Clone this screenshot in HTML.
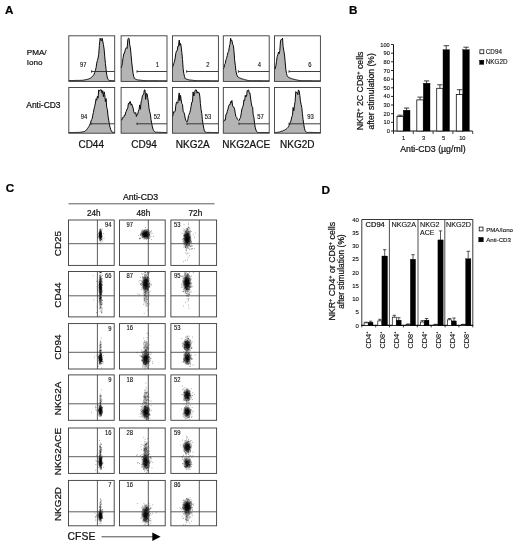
<!DOCTYPE html>
<html><head><meta charset="utf-8"><title>Figure</title>
<style>html,body{margin:0;padding:0;background:#fff;}body{width:520px;height:545px;overflow:hidden;font-family:"Liberation Sans", Arial, sans-serif;}svg text{font-family:"Liberation Sans", Arial, sans-serif;stroke:#111;}</style>
</head><body>
<svg width="520" height="545" viewBox="0 0 520 545" font-family='"Liberation Sans", Arial, sans-serif' style="display:block">
<text x="5.1" y="13.9" font-size="11.6" text-anchor="start" font-weight="bold" fill="#000" stroke-width="0.22">A</text>
<text x="349.1" y="14.4" font-size="11.7" text-anchor="start" font-weight="bold" fill="#000" stroke-width="0.22">B</text>
<text x="5.8" y="192.1" font-size="11.7" text-anchor="start" font-weight="bold" fill="#000" stroke-width="0.22">C</text>
<text x="321.4" y="193.7" font-size="11.8" text-anchor="start" font-weight="bold" fill="#000" stroke-width="0.22">D</text>
<path d="M68.8 81.4L68.8 80.5L69.5 80.5L70.1 80.5L70.8 80.5L71.5 80.5L72.1 80.5L72.8 80.5L73.5 80.5L74.1 80.5L74.8 80.5L75.5 80.4L76.1 80.4L76.8 80.4L77.4 80.4L78.1 80.4L78.8 80.4L79.4 80.4L80.1 80.4L80.8 80.4L81.4 80.3L82.1 80.3L82.8 80.3L83.4 80.2L84.1 80.0L84.8 79.9L85.4 79.7L86.1 79.6L86.8 79.5L87.4 79.3L88.1 79.2L88.8 78.9L89.4 78.6L90.1 78.2L90.8 77.9L91.4 77.5L92.1 76.9L92.7 76.1L93.4 75.3L94.1 74.2L94.7 72.6L95.4 70.3L96.1 67.6L96.7 63.1L97.4 60.5L98.1 58.0L98.7 54.4L99.4 45.5L100.1 38.2L100.7 39.6L101.4 40.8L102.1 38.2L102.7 41.0L103.4 44.4L104.1 49.0L104.7 56.1L105.4 63.4L106.1 69.6L106.7 74.6L107.4 77.9L108.0 79.4L108.7 80.0L109.4 80.4L110.0 80.6L110.7 80.6L111.4 80.6L112.0 80.7L112.7 80.7L113.4 80.7L114.0 80.7L114.7 80.8L114.7 81.4Z" fill="#b4b4b4" stroke="none"/>
<path d="M68.8 80.5L69.5 80.5L70.1 80.5L70.8 80.5L71.5 80.5L72.1 80.5L72.8 80.5L73.5 80.5L74.1 80.5L74.8 80.5L75.5 80.4L76.1 80.4L76.8 80.4L77.4 80.4L78.1 80.4L78.8 80.4L79.4 80.4L80.1 80.4L80.8 80.4L81.4 80.3L82.1 80.3L82.8 80.3L83.4 80.2L84.1 80.0L84.8 79.9L85.4 79.7L86.1 79.6L86.8 79.5L87.4 79.3L88.1 79.2L88.8 78.9L89.4 78.6L90.1 78.2L90.8 77.9L91.4 77.5L92.1 76.9L92.7 76.1L93.4 75.3L94.1 74.2L94.7 72.6L95.4 70.3L96.1 67.6L96.7 63.1L97.4 60.5L98.1 58.0L98.7 54.4L99.4 45.5L100.1 38.2L100.7 39.6L101.4 40.8L102.1 38.2L102.7 41.0L103.4 44.4L104.1 49.0L104.7 56.1L105.4 63.4L106.1 69.6L106.7 74.6L107.4 77.9L108.0 79.4L108.7 80.0L109.4 80.4L110.0 80.6L110.7 80.6L111.4 80.6L112.0 80.7L112.7 80.7L113.4 80.7L114.0 80.7L114.7 80.8" fill="none" stroke="#0a0a0a" stroke-width="1" stroke-linejoin="round"/>
<path d="M121.1 81.4L121.1 67.8L121.8 66.0L122.4 62.7L123.1 57.6L123.8 53.6L124.4 53.4L125.1 50.6L125.8 48.4L126.4 47.6L127.1 48.5L127.8 39.9L128.4 38.2L129.1 38.6L129.7 44.8L130.4 47.9L131.1 55.3L131.7 61.9L132.4 68.1L133.1 73.4L133.7 76.6L134.4 78.3L135.1 79.0L135.7 79.2L136.4 79.5L137.1 79.7L137.7 79.9L138.4 80.0L139.1 80.1L139.7 80.1L140.4 80.2L141.1 80.3L141.7 80.4L142.4 80.4L143.1 80.5L143.7 80.6L144.4 80.6L145.0 80.6L145.7 80.7L146.4 80.7L147.0 80.7L147.7 80.7L148.4 80.7L149.0 80.7L149.7 80.7L150.4 80.7L151.0 80.7L151.7 80.7L152.4 80.7L153.0 80.7L153.7 80.7L154.4 80.7L155.0 80.7L155.7 80.7L156.4 80.7L157.0 80.7L157.7 80.7L158.4 80.8L159.0 80.8L159.7 80.8L160.3 80.8L161.0 80.8L161.7 80.8L162.3 80.8L163.0 80.8L163.7 80.8L164.3 80.8L165.0 80.8L165.7 80.8L166.3 80.8L167.0 80.8L167.0 81.4Z" fill="#b4b4b4" stroke="none"/>
<path d="M121.1 67.8L121.8 66.0L122.4 62.7L123.1 57.6L123.8 53.6L124.4 53.4L125.1 50.6L125.8 48.4L126.4 47.6L127.1 48.5L127.8 39.9L128.4 38.2L129.1 38.6L129.7 44.8L130.4 47.9L131.1 55.3L131.7 61.9L132.4 68.1L133.1 73.4L133.7 76.6L134.4 78.3L135.1 79.0L135.7 79.2L136.4 79.5L137.1 79.7L137.7 79.9L138.4 80.0L139.1 80.1L139.7 80.1L140.4 80.2L141.1 80.3L141.7 80.4L142.4 80.4L143.1 80.5L143.7 80.6L144.4 80.6L145.0 80.6L145.7 80.7L146.4 80.7L147.0 80.7L147.7 80.7L148.4 80.7L149.0 80.7L149.7 80.7L150.4 80.7L151.0 80.7L151.7 80.7L152.4 80.7L153.0 80.7L153.7 80.7L154.4 80.7L155.0 80.7L155.7 80.7L156.4 80.7L157.0 80.7L157.7 80.7L158.4 80.8L159.0 80.8L159.7 80.8L160.3 80.8L161.0 80.8L161.7 80.8L162.3 80.8L163.0 80.8L163.7 80.8L164.3 80.8L165.0 80.8L165.7 80.8L166.3 80.8L167.0 80.8" fill="none" stroke="#0a0a0a" stroke-width="1" stroke-linejoin="round"/>
<path d="M172.5 81.4L172.5 67.8L173.2 65.2L173.8 63.5L174.5 61.3L175.2 58.0L175.8 53.3L176.5 51.0L177.2 50.7L177.8 46.3L178.5 46.3L179.2 40.1L179.8 45.4L180.5 43.4L181.1 46.1L181.8 52.4L182.5 59.4L183.1 68.3L183.8 73.5L184.5 76.6L185.1 78.3L185.8 79.0L186.5 79.1L187.1 79.3L187.8 79.5L188.5 79.7L189.1 79.9L189.8 80.0L190.5 80.1L191.1 80.1L191.8 80.2L192.5 80.3L193.1 80.4L193.8 80.4L194.5 80.5L195.1 80.6L195.8 80.6L196.4 80.6L197.1 80.7L197.8 80.7L198.4 80.7L199.1 80.7L199.8 80.7L200.4 80.7L201.1 80.7L201.8 80.7L202.4 80.7L203.1 80.7L203.8 80.7L204.4 80.7L205.1 80.7L205.8 80.7L206.4 80.7L207.1 80.7L207.8 80.7L208.4 80.7L209.1 80.7L209.8 80.8L210.4 80.8L211.1 80.8L211.7 80.8L212.4 80.8L213.1 80.8L213.7 80.8L214.4 80.8L215.1 80.8L215.7 80.8L216.4 80.8L217.1 80.8L217.7 80.8L218.4 80.8L218.4 81.4Z" fill="#b4b4b4" stroke="none"/>
<path d="M172.5 67.8L173.2 65.2L173.8 63.5L174.5 61.3L175.2 58.0L175.8 53.3L176.5 51.0L177.2 50.7L177.8 46.3L178.5 46.3L179.2 40.1L179.8 45.4L180.5 43.4L181.1 46.1L181.8 52.4L182.5 59.4L183.1 68.3L183.8 73.5L184.5 76.6L185.1 78.3L185.8 79.0L186.5 79.1L187.1 79.3L187.8 79.5L188.5 79.7L189.1 79.9L189.8 80.0L190.5 80.1L191.1 80.1L191.8 80.2L192.5 80.3L193.1 80.4L193.8 80.4L194.5 80.5L195.1 80.6L195.8 80.6L196.4 80.6L197.1 80.7L197.8 80.7L198.4 80.7L199.1 80.7L199.8 80.7L200.4 80.7L201.1 80.7L201.8 80.7L202.4 80.7L203.1 80.7L203.8 80.7L204.4 80.7L205.1 80.7L205.8 80.7L206.4 80.7L207.1 80.7L207.8 80.7L208.4 80.7L209.1 80.7L209.8 80.8L210.4 80.8L211.1 80.8L211.7 80.8L212.4 80.8L213.1 80.8L213.7 80.8L214.4 80.8L215.1 80.8L215.7 80.8L216.4 80.8L217.1 80.8L217.7 80.8L218.4 80.8" fill="none" stroke="#0a0a0a" stroke-width="1" stroke-linejoin="round"/>
<path d="M223.3 81.4L223.3 68.8L224.0 67.6L224.6 64.5L225.3 63.4L226.0 59.7L226.6 58.3L227.3 55.4L228.0 52.3L228.6 51.6L229.3 47.2L230.0 44.2L230.6 38.2L231.3 40.7L231.9 40.3L232.6 44.3L233.3 45.4L233.9 50.2L234.6 59.8L235.3 65.3L235.9 70.7L236.6 74.2L237.3 76.1L237.9 77.0L238.6 77.4L239.3 77.7L239.9 78.0L240.6 78.3L241.3 78.6L241.9 78.8L242.6 79.0L243.3 79.2L243.9 79.4L244.6 79.7L245.3 79.8L245.9 80.0L246.6 80.1L247.2 80.3L247.9 80.4L248.6 80.5L249.2 80.6L249.9 80.6L250.6 80.7L251.2 80.7L251.9 80.7L252.6 80.7L253.2 80.7L253.9 80.7L254.6 80.7L255.2 80.7L255.9 80.7L256.6 80.7L257.2 80.7L257.9 80.7L258.6 80.7L259.2 80.7L259.9 80.7L260.6 80.7L261.2 80.7L261.9 80.8L262.5 80.8L263.2 80.8L263.9 80.8L264.5 80.8L265.2 80.8L265.9 80.8L266.5 80.8L267.2 80.8L267.9 80.8L268.5 80.8L269.2 80.8L269.2 81.4Z" fill="#b4b4b4" stroke="none"/>
<path d="M223.3 68.8L224.0 67.6L224.6 64.5L225.3 63.4L226.0 59.7L226.6 58.3L227.3 55.4L228.0 52.3L228.6 51.6L229.3 47.2L230.0 44.2L230.6 38.2L231.3 40.7L231.9 40.3L232.6 44.3L233.3 45.4L233.9 50.2L234.6 59.8L235.3 65.3L235.9 70.7L236.6 74.2L237.3 76.1L237.9 77.0L238.6 77.4L239.3 77.7L239.9 78.0L240.6 78.3L241.3 78.6L241.9 78.8L242.6 79.0L243.3 79.2L243.9 79.4L244.6 79.7L245.3 79.8L245.9 80.0L246.6 80.1L247.2 80.3L247.9 80.4L248.6 80.5L249.2 80.6L249.9 80.6L250.6 80.7L251.2 80.7L251.9 80.7L252.6 80.7L253.2 80.7L253.9 80.7L254.6 80.7L255.2 80.7L255.9 80.7L256.6 80.7L257.2 80.7L257.9 80.7L258.6 80.7L259.2 80.7L259.9 80.7L260.6 80.7L261.2 80.7L261.9 80.8L262.5 80.8L263.2 80.8L263.9 80.8L264.5 80.8L265.2 80.8L265.9 80.8L266.5 80.8L267.2 80.8L267.9 80.8L268.5 80.8L269.2 80.8" fill="none" stroke="#0a0a0a" stroke-width="1" stroke-linejoin="round"/>
<path d="M274.5 81.4L274.5 68.7L275.2 68.9L275.8 66.2L276.5 61.5L277.2 56.5L277.8 54.9L278.5 52.1L279.2 53.7L279.8 50.7L280.5 40.9L281.2 39.4L281.8 39.9L282.5 38.2L283.1 46.7L283.8 50.7L284.5 54.9L285.1 61.3L285.8 69.3L286.5 73.4L287.1 75.7L287.8 76.8L288.5 77.3L289.1 77.6L289.8 77.9L290.5 78.2L291.1 78.4L291.8 78.7L292.5 78.9L293.1 79.1L293.8 79.3L294.5 79.4L295.1 79.6L295.8 79.8L296.5 79.9L297.1 80.1L297.8 80.2L298.4 80.3L299.1 80.4L299.8 80.6L300.4 80.6L301.1 80.6L301.8 80.7L302.4 80.7L303.1 80.7L303.8 80.7L304.4 80.7L305.1 80.7L305.8 80.7L306.4 80.7L307.1 80.7L307.8 80.7L308.4 80.7L309.1 80.7L309.8 80.7L310.4 80.7L311.1 80.7L311.8 80.7L312.4 80.7L313.1 80.8L313.7 80.8L314.4 80.8L315.1 80.8L315.7 80.8L316.4 80.8L317.1 80.8L317.7 80.8L318.4 80.8L319.1 80.8L319.7 80.8L320.4 80.8L320.4 81.4Z" fill="#b4b4b4" stroke="none"/>
<path d="M274.5 68.7L275.2 68.9L275.8 66.2L276.5 61.5L277.2 56.5L277.8 54.9L278.5 52.1L279.2 53.7L279.8 50.7L280.5 40.9L281.2 39.4L281.8 39.9L282.5 38.2L283.1 46.7L283.8 50.7L284.5 54.9L285.1 61.3L285.8 69.3L286.5 73.4L287.1 75.7L287.8 76.8L288.5 77.3L289.1 77.6L289.8 77.9L290.5 78.2L291.1 78.4L291.8 78.7L292.5 78.9L293.1 79.1L293.8 79.3L294.5 79.4L295.1 79.6L295.8 79.8L296.5 79.9L297.1 80.1L297.8 80.2L298.4 80.3L299.1 80.4L299.8 80.6L300.4 80.6L301.1 80.6L301.8 80.7L302.4 80.7L303.1 80.7L303.8 80.7L304.4 80.7L305.1 80.7L305.8 80.7L306.4 80.7L307.1 80.7L307.8 80.7L308.4 80.7L309.1 80.7L309.8 80.7L310.4 80.7L311.1 80.7L311.8 80.7L312.4 80.7L313.1 80.8L313.7 80.8L314.4 80.8L315.1 80.8L315.7 80.8L316.4 80.8L317.1 80.8L317.7 80.8L318.4 80.8L319.1 80.8L319.7 80.8L320.4 80.8" fill="none" stroke="#0a0a0a" stroke-width="1" stroke-linejoin="round"/>
<path d="M68.8 133.2L68.8 132.6L69.5 132.6L70.1 132.5L70.8 132.5L71.5 132.5L72.1 132.5L72.8 132.5L73.5 132.5L74.1 132.5L74.8 132.5L75.5 132.4L76.1 132.4L76.8 132.4L77.4 132.4L78.1 132.4L78.8 132.4L79.4 132.4L80.1 132.3L80.8 132.2L81.4 132.1L82.1 132.0L82.8 131.9L83.4 131.7L84.1 131.6L84.8 131.4L85.4 130.9L86.1 130.2L86.8 129.6L87.4 128.7L88.1 127.7L88.8 126.6L89.4 125.5L90.1 124.0L90.8 122.0L91.4 119.8L92.1 119.2L92.7 115.3L93.4 112.6L94.1 108.6L94.7 106.5L95.4 103.0L96.1 98.8L96.7 100.2L97.4 96.3L98.1 98.1L98.7 89.9L99.4 91.2L100.1 89.9L100.7 89.9L101.4 89.9L102.1 93.2L102.7 90.7L103.4 96.7L104.1 91.8L104.7 94.4L105.4 101.6L106.1 98.6L106.7 107.3L107.4 109.6L108.0 115.9L108.7 120.1L109.4 124.1L110.0 127.2L110.7 129.5L111.4 131.1L112.0 131.9L112.7 132.3L113.4 132.4L114.0 132.5L114.7 132.6L114.7 133.2Z" fill="#b4b4b4" stroke="none"/>
<path d="M68.8 132.6L69.5 132.6L70.1 132.5L70.8 132.5L71.5 132.5L72.1 132.5L72.8 132.5L73.5 132.5L74.1 132.5L74.8 132.5L75.5 132.4L76.1 132.4L76.8 132.4L77.4 132.4L78.1 132.4L78.8 132.4L79.4 132.4L80.1 132.3L80.8 132.2L81.4 132.1L82.1 132.0L82.8 131.9L83.4 131.7L84.1 131.6L84.8 131.4L85.4 130.9L86.1 130.2L86.8 129.6L87.4 128.7L88.1 127.7L88.8 126.6L89.4 125.5L90.1 124.0L90.8 122.0L91.4 119.8L92.1 119.2L92.7 115.3L93.4 112.6L94.1 108.6L94.7 106.5L95.4 103.0L96.1 98.8L96.7 100.2L97.4 96.3L98.1 98.1L98.7 89.9L99.4 91.2L100.1 89.9L100.7 89.9L101.4 89.9L102.1 93.2L102.7 90.7L103.4 96.7L104.1 91.8L104.7 94.4L105.4 101.6L106.1 98.6L106.7 107.3L107.4 109.6L108.0 115.9L108.7 120.1L109.4 124.1L110.0 127.2L110.7 129.5L111.4 131.1L112.0 131.9L112.7 132.3L113.4 132.4L114.0 132.5L114.7 132.6" fill="none" stroke="#0a0a0a" stroke-width="1" stroke-linejoin="round"/>
<path d="M121.1 133.2L121.1 119.6L121.8 120.2L122.4 117.7L123.1 117.8L123.8 117.2L124.4 115.1L125.1 115.3L125.8 111.9L126.4 111.2L127.1 109.0L127.8 107.9L128.4 103.4L129.1 104.1L129.7 101.8L130.4 101.6L131.1 105.2L131.7 103.9L132.4 105.9L133.1 108.0L133.7 111.4L134.4 113.3L135.1 113.1L135.7 112.5L136.4 116.5L137.1 114.2L137.7 114.4L138.4 111.3L139.1 109.2L139.7 104.9L140.4 109.3L141.1 102.0L141.7 100.3L142.4 95.6L143.1 95.1L143.7 93.7L144.4 89.9L145.0 89.9L145.7 99.4L146.4 93.3L147.0 93.7L147.7 97.5L148.4 102.2L149.0 108.2L149.7 111.8L150.4 114.2L151.0 119.6L151.7 123.4L152.4 126.8L153.0 129.2L153.7 130.7L154.4 131.6L155.0 132.0L155.7 132.2L156.4 132.2L157.0 132.2L157.7 132.2L158.4 132.3L159.0 132.3L159.7 132.3L160.3 132.3L161.0 132.4L161.7 132.4L162.3 132.4L163.0 132.4L163.7 132.5L164.3 132.5L165.0 132.5L165.7 132.5L166.3 132.6L167.0 132.6L167.0 133.2Z" fill="#b4b4b4" stroke="none"/>
<path d="M121.1 119.6L121.8 120.2L122.4 117.7L123.1 117.8L123.8 117.2L124.4 115.1L125.1 115.3L125.8 111.9L126.4 111.2L127.1 109.0L127.8 107.9L128.4 103.4L129.1 104.1L129.7 101.8L130.4 101.6L131.1 105.2L131.7 103.9L132.4 105.9L133.1 108.0L133.7 111.4L134.4 113.3L135.1 113.1L135.7 112.5L136.4 116.5L137.1 114.2L137.7 114.4L138.4 111.3L139.1 109.2L139.7 104.9L140.4 109.3L141.1 102.0L141.7 100.3L142.4 95.6L143.1 95.1L143.7 93.7L144.4 89.9L145.0 89.9L145.7 99.4L146.4 93.3L147.0 93.7L147.7 97.5L148.4 102.2L149.0 108.2L149.7 111.8L150.4 114.2L151.0 119.6L151.7 123.4L152.4 126.8L153.0 129.2L153.7 130.7L154.4 131.6L155.0 132.0L155.7 132.2L156.4 132.2L157.0 132.2L157.7 132.2L158.4 132.3L159.0 132.3L159.7 132.3L160.3 132.3L161.0 132.4L161.7 132.4L162.3 132.4L163.0 132.4L163.7 132.5L164.3 132.5L165.0 132.5L165.7 132.5L166.3 132.6L167.0 132.6" fill="none" stroke="#0a0a0a" stroke-width="1" stroke-linejoin="round"/>
<path d="M172.5 133.2L172.5 116.9L173.2 113.9L173.8 111.6L174.5 111.9L175.2 111.4L175.8 105.4L176.5 102.1L177.2 102.5L177.8 103.1L178.5 97.6L179.2 92.9L179.8 100.8L180.5 95.4L181.1 99.5L181.8 103.7L182.5 104.3L183.1 111.2L183.8 112.3L184.5 114.1L185.1 118.0L185.8 120.3L186.5 121.7L187.1 121.9L187.8 120.1L188.5 115.5L189.1 114.5L189.8 112.5L190.5 109.8L191.1 106.4L191.8 102.1L192.5 101.8L193.1 91.9L193.8 96.0L194.5 94.6L195.1 90.2L195.8 89.9L196.4 89.9L197.1 93.2L197.8 91.7L198.4 92.7L199.1 92.6L199.8 96.1L200.4 103.6L201.1 109.7L201.8 113.6L202.4 119.8L203.1 124.6L203.8 128.3L204.4 130.8L205.1 131.9L205.8 132.2L206.4 132.4L207.1 132.4L207.8 132.4L208.4 132.4L209.1 132.4L209.8 132.4L210.4 132.4L211.1 132.4L211.7 132.5L212.4 132.5L213.1 132.5L213.7 132.5L214.4 132.5L215.1 132.5L215.7 132.5L216.4 132.5L217.1 132.6L217.7 132.6L218.4 132.6L218.4 133.2Z" fill="#b4b4b4" stroke="none"/>
<path d="M172.5 116.9L173.2 113.9L173.8 111.6L174.5 111.9L175.2 111.4L175.8 105.4L176.5 102.1L177.2 102.5L177.8 103.1L178.5 97.6L179.2 92.9L179.8 100.8L180.5 95.4L181.1 99.5L181.8 103.7L182.5 104.3L183.1 111.2L183.8 112.3L184.5 114.1L185.1 118.0L185.8 120.3L186.5 121.7L187.1 121.9L187.8 120.1L188.5 115.5L189.1 114.5L189.8 112.5L190.5 109.8L191.1 106.4L191.8 102.1L192.5 101.8L193.1 91.9L193.8 96.0L194.5 94.6L195.1 90.2L195.8 89.9L196.4 89.9L197.1 93.2L197.8 91.7L198.4 92.7L199.1 92.6L199.8 96.1L200.4 103.6L201.1 109.7L201.8 113.6L202.4 119.8L203.1 124.6L203.8 128.3L204.4 130.8L205.1 131.9L205.8 132.2L206.4 132.4L207.1 132.4L207.8 132.4L208.4 132.4L209.1 132.4L209.8 132.4L210.4 132.4L211.1 132.4L211.7 132.5L212.4 132.5L213.1 132.5L213.7 132.5L214.4 132.5L215.1 132.5L215.7 132.5L216.4 132.5L217.1 132.6L217.7 132.6L218.4 132.6" fill="none" stroke="#0a0a0a" stroke-width="1" stroke-linejoin="round"/>
<path d="M223.3 133.2L223.3 121.8L224.0 121.0L224.6 119.9L225.3 120.1L226.0 114.2L226.6 114.2L227.3 111.2L228.0 109.1L228.6 106.2L229.3 104.6L230.0 104.8L230.6 101.7L231.3 102.7L231.9 100.5L232.6 105.8L233.3 107.0L233.9 107.2L234.6 109.2L235.3 113.5L235.9 116.5L236.6 117.3L237.3 119.1L237.9 119.7L238.6 120.4L239.3 120.2L239.9 118.4L240.6 117.3L241.3 112.8L241.9 109.0L242.6 107.3L243.3 105.3L243.9 100.1L244.6 100.7L245.3 95.3L245.9 96.9L246.6 96.0L247.2 90.5L247.9 90.5L248.6 89.9L249.2 92.8L249.9 92.9L250.6 98.0L251.2 102.7L251.9 106.3L252.6 107.0L253.2 114.8L253.9 117.5L254.6 123.5L255.2 127.2L255.9 129.9L256.6 131.5L257.2 132.1L257.9 132.4L258.6 132.5L259.2 132.5L259.9 132.5L260.6 132.5L261.2 132.5L261.9 132.5L262.5 132.5L263.2 132.5L263.9 132.5L264.5 132.5L265.2 132.5L265.9 132.5L266.5 132.5L267.2 132.6L267.9 132.6L268.5 132.6L269.2 132.6L269.2 133.2Z" fill="#b4b4b4" stroke="none"/>
<path d="M223.3 121.8L224.0 121.0L224.6 119.9L225.3 120.1L226.0 114.2L226.6 114.2L227.3 111.2L228.0 109.1L228.6 106.2L229.3 104.6L230.0 104.8L230.6 101.7L231.3 102.7L231.9 100.5L232.6 105.8L233.3 107.0L233.9 107.2L234.6 109.2L235.3 113.5L235.9 116.5L236.6 117.3L237.3 119.1L237.9 119.7L238.6 120.4L239.3 120.2L239.9 118.4L240.6 117.3L241.3 112.8L241.9 109.0L242.6 107.3L243.3 105.3L243.9 100.1L244.6 100.7L245.3 95.3L245.9 96.9L246.6 96.0L247.2 90.5L247.9 90.5L248.6 89.9L249.2 92.8L249.9 92.9L250.6 98.0L251.2 102.7L251.9 106.3L252.6 107.0L253.2 114.8L253.9 117.5L254.6 123.5L255.2 127.2L255.9 129.9L256.6 131.5L257.2 132.1L257.9 132.4L258.6 132.5L259.2 132.5L259.9 132.5L260.6 132.5L261.2 132.5L261.9 132.5L262.5 132.5L263.2 132.5L263.9 132.5L264.5 132.5L265.2 132.5L265.9 132.5L266.5 132.5L267.2 132.6L267.9 132.6L268.5 132.6L269.2 132.6" fill="none" stroke="#0a0a0a" stroke-width="1" stroke-linejoin="round"/>
<path d="M274.5 133.2L274.5 132.6L275.2 132.5L275.8 132.4L276.5 132.4L277.2 132.3L277.8 132.3L278.5 132.2L279.2 132.1L279.8 131.9L280.5 131.6L281.2 131.4L281.8 131.2L282.5 131.0L283.1 130.7L283.8 130.4L284.5 130.1L285.1 129.7L285.8 129.3L286.5 128.8L287.1 128.3L287.8 127.6L288.5 126.6L289.1 125.5L289.8 124.0L290.5 122.2L291.1 120.1L291.8 116.9L292.5 115.2L293.1 107.5L293.8 110.8L294.5 105.2L295.1 101.5L295.8 91.6L296.5 92.6L297.1 92.6L297.8 94.6L298.4 89.9L299.1 90.9L299.8 95.3L300.4 100.8L301.1 104.4L301.8 107.5L302.4 113.6L303.1 119.8L303.8 124.6L304.4 128.2L305.1 130.6L305.8 131.7L306.4 132.2L307.1 132.4L307.8 132.4L308.4 132.4L309.1 132.4L309.8 132.4L310.4 132.4L311.1 132.4L311.8 132.4L312.4 132.4L313.1 132.5L313.7 132.5L314.4 132.5L315.1 132.5L315.7 132.5L316.4 132.5L317.1 132.5L317.7 132.5L318.4 132.5L319.1 132.6L319.7 132.6L320.4 132.6L320.4 133.2Z" fill="#b4b4b4" stroke="none"/>
<path d="M274.5 132.6L275.2 132.5L275.8 132.4L276.5 132.4L277.2 132.3L277.8 132.3L278.5 132.2L279.2 132.1L279.8 131.9L280.5 131.6L281.2 131.4L281.8 131.2L282.5 131.0L283.1 130.7L283.8 130.4L284.5 130.1L285.1 129.7L285.8 129.3L286.5 128.8L287.1 128.3L287.8 127.6L288.5 126.6L289.1 125.5L289.8 124.0L290.5 122.2L291.1 120.1L291.8 116.9L292.5 115.2L293.1 107.5L293.8 110.8L294.5 105.2L295.1 101.5L295.8 91.6L296.5 92.6L297.1 92.6L297.8 94.6L298.4 89.9L299.1 90.9L299.8 95.3L300.4 100.8L301.1 104.4L301.8 107.5L302.4 113.6L303.1 119.8L303.8 124.6L304.4 128.2L305.1 130.6L305.8 131.7L306.4 132.2L307.1 132.4L307.8 132.4L308.4 132.4L309.1 132.4L309.8 132.4L310.4 132.4L311.1 132.4L311.8 132.4L312.4 132.4L313.1 132.5L313.7 132.5L314.4 132.5L315.1 132.5L315.7 132.5L316.4 132.5L317.1 132.5L317.7 132.5L318.4 132.5L319.1 132.6L319.7 132.6L320.4 132.6" fill="none" stroke="#0a0a0a" stroke-width="1" stroke-linejoin="round"/>
<path d="M91.5 71.5H114.69999999999999M91.5 70.3v2.4" stroke="#2a2a2a" stroke-width="0.9" fill="none"/>
<text transform="translate(83.3 66.6) scale(0.9 1)" font-size="6.5" text-anchor="middle" fill="#111" stroke-width="0.12">97</text>
<path d="M137 71.5H167.0M137 70.3v2.4" stroke="#2a2a2a" stroke-width="0.9" fill="none"/>
<text transform="translate(157.4 66.6) scale(0.9 1)" font-size="6.5" text-anchor="middle" fill="#111" stroke-width="0.12">1</text>
<path d="M186.6 71.5H218.4M186.6 70.3v2.4" stroke="#2a2a2a" stroke-width="0.9" fill="none"/>
<text transform="translate(208.0 66.6) scale(0.9 1)" font-size="6.5" text-anchor="middle" fill="#111" stroke-width="0.12">2</text>
<path d="M238.4 71.5H269.2M238.4 70.3v2.4" stroke="#2a2a2a" stroke-width="0.9" fill="none"/>
<text transform="translate(259.4 66.6) scale(0.9 1)" font-size="6.5" text-anchor="middle" fill="#111" stroke-width="0.12">4</text>
<path d="M289 71.5H320.4M289 70.3v2.4" stroke="#2a2a2a" stroke-width="0.9" fill="none"/>
<text transform="translate(310.0 66.6) scale(0.9 1)" font-size="6.5" text-anchor="middle" fill="#111" stroke-width="0.12">6</text>
<path d="M91 123.8H114.69999999999999M91 122.6v2.4" stroke="#2a2a2a" stroke-width="0.9" fill="none"/>
<text transform="translate(84.0 118.6) scale(0.9 1)" font-size="6.5" text-anchor="middle" fill="#111" stroke-width="0.12">94</text>
<path d="M137 123.8H167.0M137 122.6v2.4" stroke="#2a2a2a" stroke-width="0.9" fill="none"/>
<text transform="translate(157.0 118.6) scale(0.9 1)" font-size="6.5" text-anchor="middle" fill="#111" stroke-width="0.12">52</text>
<path d="M187 123.8H218.4M187 122.6v2.4" stroke="#2a2a2a" stroke-width="0.9" fill="none"/>
<text transform="translate(208.0 118.6) scale(0.9 1)" font-size="6.5" text-anchor="middle" fill="#111" stroke-width="0.12">53</text>
<path d="M239 123.8H269.2M239 122.6v2.4" stroke="#2a2a2a" stroke-width="0.9" fill="none"/>
<text transform="translate(260.4 118.6) scale(0.9 1)" font-size="6.5" text-anchor="middle" fill="#111" stroke-width="0.12">57</text>
<path d="M289 123.8H320.4M289 122.6v2.4" stroke="#2a2a2a" stroke-width="0.9" fill="none"/>
<text transform="translate(310.4 118.6) scale(0.9 1)" font-size="6.5" text-anchor="middle" fill="#111" stroke-width="0.12">93</text>
<rect x="68.8" y="35.8" width="45.9" height="45.6" fill="none" stroke="#3a3a3a" stroke-width="0.9"/>
<rect x="68.8" y="87.5" width="45.9" height="45.7" fill="none" stroke="#3a3a3a" stroke-width="0.9"/>
<rect x="121.1" y="35.8" width="45.9" height="45.6" fill="none" stroke="#3a3a3a" stroke-width="0.9"/>
<rect x="121.1" y="87.5" width="45.9" height="45.7" fill="none" stroke="#3a3a3a" stroke-width="0.9"/>
<rect x="172.5" y="35.8" width="45.9" height="45.6" fill="none" stroke="#3a3a3a" stroke-width="0.9"/>
<rect x="172.5" y="87.5" width="45.9" height="45.7" fill="none" stroke="#3a3a3a" stroke-width="0.9"/>
<rect x="223.3" y="35.8" width="45.9" height="45.6" fill="none" stroke="#3a3a3a" stroke-width="0.9"/>
<rect x="223.3" y="87.5" width="45.9" height="45.7" fill="none" stroke="#3a3a3a" stroke-width="0.9"/>
<rect x="274.5" y="35.8" width="45.9" height="45.6" fill="none" stroke="#3a3a3a" stroke-width="0.9"/>
<rect x="274.5" y="87.5" width="45.9" height="45.7" fill="none" stroke="#3a3a3a" stroke-width="0.9"/>
<text x="91.2" y="148.0" font-size="10.0" text-anchor="middle" font-weight="normal" fill="#111" stroke-width="0.22">CD44</text>
<text x="144.1" y="148.0" font-size="10.0" text-anchor="middle" font-weight="normal" fill="#111" stroke-width="0.22">CD94</text>
<text x="192.7" y="148.0" font-size="10.0" text-anchor="middle" font-weight="normal" fill="#111" stroke-width="0.22">NKG2A</text>
<text x="246.2" y="148.0" font-size="10.0" text-anchor="middle" font-weight="normal" fill="#111" stroke-width="0.22">NKG2ACE</text>
<text x="297.3" y="148.0" font-size="10.0" text-anchor="middle" font-weight="normal" fill="#111" stroke-width="0.22">NKG2D</text>
<text x="26.8" y="54.6" font-size="8.1" text-anchor="start" font-weight="normal" fill="#111" stroke-width="0.22">PMA/</text>
<text x="26.8" y="65.0" font-size="8.1" text-anchor="start" font-weight="normal" fill="#111" stroke-width="0.22">Iono</text>
<text x="26.3" y="107.8" font-size="8.45" text-anchor="start" font-weight="normal" fill="#111" stroke-width="0.22">Anti-CD3</text>
<path d="M393.5 44.5V131.5M393.0 131.0H472.5" stroke="#111" stroke-width="1" fill="none"/>
<path d="M391.0 131.0H393.5" stroke="#111" stroke-width="0.9"/>
<text x="389.8" y="133.0" font-size="5.7" text-anchor="end" font-weight="normal" fill="#111" stroke-width="0.12">0</text>
<path d="M391.0 122.3H393.5" stroke="#111" stroke-width="0.9"/>
<text x="389.8" y="124.3" font-size="5.7" text-anchor="end" font-weight="normal" fill="#111" stroke-width="0.12">10</text>
<path d="M391.0 113.7H393.5" stroke="#111" stroke-width="0.9"/>
<text x="389.8" y="115.7" font-size="5.7" text-anchor="end" font-weight="normal" fill="#111" stroke-width="0.12">20</text>
<path d="M391.0 105.0H393.5" stroke="#111" stroke-width="0.9"/>
<text x="389.8" y="107.0" font-size="5.7" text-anchor="end" font-weight="normal" fill="#111" stroke-width="0.12">30</text>
<path d="M391.0 96.4H393.5" stroke="#111" stroke-width="0.9"/>
<text x="389.8" y="98.4" font-size="5.7" text-anchor="end" font-weight="normal" fill="#111" stroke-width="0.12">40</text>
<path d="M391.0 87.8H393.5" stroke="#111" stroke-width="0.9"/>
<text x="389.8" y="89.8" font-size="5.7" text-anchor="end" font-weight="normal" fill="#111" stroke-width="0.12">50</text>
<path d="M391.0 79.1H393.5" stroke="#111" stroke-width="0.9"/>
<text x="389.8" y="81.1" font-size="5.7" text-anchor="end" font-weight="normal" fill="#111" stroke-width="0.12">60</text>
<path d="M391.0 70.5H393.5" stroke="#111" stroke-width="0.9"/>
<text x="389.8" y="72.5" font-size="5.7" text-anchor="end" font-weight="normal" fill="#111" stroke-width="0.12">70</text>
<path d="M391.0 61.8H393.5" stroke="#111" stroke-width="0.9"/>
<text x="389.8" y="63.8" font-size="5.7" text-anchor="end" font-weight="normal" fill="#111" stroke-width="0.12">80</text>
<path d="M391.0 53.2H393.5" stroke="#111" stroke-width="0.9"/>
<text x="389.8" y="55.2" font-size="5.7" text-anchor="end" font-weight="normal" fill="#111" stroke-width="0.12">90</text>
<path d="M391.0 44.5H393.5" stroke="#111" stroke-width="0.9"/>
<text x="389.8" y="46.5" font-size="5.7" text-anchor="end" font-weight="normal" fill="#111" stroke-width="0.12">100</text>
<path d="M393.5 131.0v3" stroke="#111" stroke-width="0.8"/>
<path d="M413.3 131.0v3" stroke="#111" stroke-width="0.8"/>
<path d="M433.1 131.0v3" stroke="#111" stroke-width="0.8"/>
<path d="M452.9 131.0v3" stroke="#111" stroke-width="0.8"/>
<path d="M472.7 131.0v3" stroke="#111" stroke-width="0.8"/>
<rect x="397.0" y="116.5" width="6.3" height="14.5" fill="#fff" stroke="#111" stroke-width="0.8"/>
<rect x="403.3" y="110.2" width="6.7" height="20.8" fill="#000" stroke="#000" stroke-width="0.4"/>
<path d="M400.1 116.5V115.2M397.4 115.2h5.4" stroke="#111" stroke-width="0.8" fill="none"/>
<path d="M406.6 110.2V108.0M403.9 108.0h5.4" stroke="#111" stroke-width="0.8" fill="none"/>
<text x="403.5" y="140.1" font-size="5.7" text-anchor="middle" font-weight="normal" fill="#111" stroke-width="0.12">1</text>
<rect x="416.8" y="99.9" width="6.5" height="31.1" fill="#fff" stroke="#111" stroke-width="0.8"/>
<rect x="423.3" y="83.2" width="6.7" height="47.8" fill="#000" stroke="#000" stroke-width="0.4"/>
<path d="M420.1 99.9V97.1M417.4 97.1h5.4" stroke="#111" stroke-width="0.8" fill="none"/>
<path d="M426.6 83.2V80.9M423.9 80.9h5.4" stroke="#111" stroke-width="0.8" fill="none"/>
<text x="423.7" y="140.1" font-size="5.7" text-anchor="middle" font-weight="normal" fill="#111" stroke-width="0.12">3</text>
<rect x="436.7" y="88.3" width="6.3" height="42.7" fill="#fff" stroke="#111" stroke-width="0.8"/>
<rect x="443.0" y="49.7" width="6.5" height="81.3" fill="#000" stroke="#000" stroke-width="0.4"/>
<path d="M439.9 88.3V84.8M437.2 84.8h5.4" stroke="#111" stroke-width="0.8" fill="none"/>
<path d="M446.2 49.7V45.7M443.6 45.7h5.4" stroke="#111" stroke-width="0.8" fill="none"/>
<text x="443.5" y="140.1" font-size="5.7" text-anchor="middle" font-weight="normal" fill="#111" stroke-width="0.12">5</text>
<rect x="456.3" y="94.5" width="6.5" height="36.5" fill="#fff" stroke="#111" stroke-width="0.8"/>
<rect x="462.8" y="49.7" width="6.5" height="81.3" fill="#000" stroke="#000" stroke-width="0.4"/>
<path d="M459.6 94.5V89.7M456.9 89.7h5.4" stroke="#111" stroke-width="0.8" fill="none"/>
<path d="M466.1 49.7V47.2M463.4 47.2h5.4" stroke="#111" stroke-width="0.8" fill="none"/>
<text x="462.3" y="140.1" font-size="5.7" text-anchor="middle" font-weight="normal" fill="#111" stroke-width="0.12">10</text>
<text x="432.9" y="152.3" font-size="8.75" text-anchor="middle" font-weight="normal" fill="#111" stroke-width="0.22">Anti-CD3 (µg/ml)</text>
<text x="363.0" y="90.9" font-size="8.8" text-anchor="middle" font-weight="normal" fill="#111" stroke-width="0.22" transform="rotate(-90 363.0 90.9)">NKR<tspan font-size="5.5" dy="-3.2">+</tspan><tspan dy="3.2"> 2C CD8</tspan><tspan font-size="5.5" dy="-3.2">+</tspan><tspan dy="3.2"> cells</tspan></text>
<text x="373.8" y="91.4" font-size="8.6" text-anchor="middle" font-weight="normal" fill="#111" stroke-width="0.22" transform="rotate(-90 373.8 91.4)">after stimulation (%)</text>
<rect x="479.9" y="49.8" width="3.9" height="3.9" fill="#fff" stroke="#111" stroke-width="0.8"/>
<rect x="479.7" y="60.2" width="4.1" height="4.1" fill="#000" stroke="#000" stroke-width="0.5"/>
<text x="485.8" y="53.9" font-size="6.3" text-anchor="start" font-weight="normal" fill="#111" stroke-width="0.12">CD94</text>
<text x="485.8" y="64.4" font-size="6.3" text-anchor="start" font-weight="normal" fill="#111" stroke-width="0.12">NKG2D</text>
<text x="140.5" y="199.6" font-size="8.7" text-anchor="middle" font-weight="normal" fill="#111" stroke-width="0.22">Anti-CD3</text>
<path d="M68.5 203.8H214.6" stroke="#333" stroke-width="0.8"/>
<text x="93.8" y="215.7" font-size="8.2" text-anchor="middle" font-weight="normal" fill="#111" stroke-width="0.22">24h</text>
<text x="143.4" y="215.7" font-size="8.2" text-anchor="middle" font-weight="normal" fill="#111" stroke-width="0.22">48h</text>
<text x="195.4" y="215.7" font-size="8.2" text-anchor="middle" font-weight="normal" fill="#111" stroke-width="0.22">72h</text>
<text x="60.8" y="243.6" font-size="9.9" text-anchor="middle" font-weight="normal" fill="#111" stroke-width="0.22" transform="rotate(-90 60.8 243.6)">CD25</text>
<text x="60.8" y="295.09999999999997" font-size="9.9" text-anchor="middle" font-weight="normal" fill="#111" stroke-width="0.22" transform="rotate(-90 60.8 295.09999999999997)">CD44</text>
<text x="60.8" y="347.2" font-size="9.9" text-anchor="middle" font-weight="normal" fill="#111" stroke-width="0.22" transform="rotate(-90 60.8 347.2)">CD94</text>
<text x="60.8" y="398.49999999999994" font-size="9.9" text-anchor="middle" font-weight="normal" fill="#111" stroke-width="0.22" transform="rotate(-90 60.8 398.49999999999994)">NKG2A</text>
<text x="60.8" y="451.59999999999997" font-size="9.9" text-anchor="middle" font-weight="normal" fill="#111" stroke-width="0.22" transform="rotate(-90 60.8 451.59999999999997)">NKG2ACE</text>
<text x="60.8" y="503.99999999999994" font-size="9.9" text-anchor="middle" font-weight="normal" fill="#111" stroke-width="0.22" transform="rotate(-90 60.8 503.99999999999994)">NKG2D</text>
<defs><radialGradient id="g"><stop offset="0" stop-color="#000" stop-opacity="1"/><stop offset="0.35" stop-color="#000" stop-opacity="0.9"/><stop offset="0.7" stop-color="#000" stop-opacity="0.35"/><stop offset="1" stop-color="#000" stop-opacity="0"/></radialGradient><filter id="bl" x="-5%" y="-5%" width="110%" height="110%"><feGaussianBlur stdDeviation="0.42"/></filter></defs>
<ellipse cx="100.3" cy="235.0" rx="2.3" ry="7.5" fill="url(#g)" opacity="1"/>
<path d="M100.1 234.6h.8M100.7 234.6h.8M101.1 233.7h.8M99.1 235.9h.8M101.0 235.7h.8M100.7 232.9h.8M100.1 237.1h.8M101.3 237.2h.8M100.4 237.3h.8M101.2 234.6h.8M99.9 234.5h.8M99.7 231.8h.8M101.2 237.1h.8M101.8 229.0h.8M100.7 233.9h.8M100.9 234.0h.8M100.0 237.4h.8M99.4 235.0h.8M100.1 232.3h.8M101.4 231.0h.8M99.0 233.0h.8M100.0 235.3h.8M99.0 235.2h.8M100.4 234.4h.8M100.9 233.1h.8M99.4 234.4h.8M100.0 237.8h.8M101.2 231.9h.8M100.2 235.1h.8M99.4 239.5h.8M99.4 236.6h.8M98.9 233.7h.8M100.8 236.9h.8M99.8 232.9h.8M101.0 235.0h.8M100.9 239.4h.8M99.8 240.3h.8M99.9 230.2h.8M100.8 237.0h.8M100.4 240.5h.8M100.5 233.5h.8M99.1 235.7h.8M100.9 239.2h.8M99.7 233.6h.8M98.7 236.3h.8M99.9 234.8h.8M100.6 229.6h.8M101.8 236.0h.8M100.0 234.5h.8M99.4 237.6h.8M101.8 240.9h.8M100.4 236.9h.8M100.1 234.0h.8M99.5 236.3h.8M99.6 235.6h.8M101.3 237.9h.8M100.1 231.0h.8M99.9 231.7h.8M99.9 229.3h.8M101.4 236.7h.8M99.9 234.9h.8M100.7 233.2h.8M100.5 233.0h.8M100.5 233.4h.8M99.7 232.4h.8M100.8 234.1h.8M101.4 233.6h.8M100.3 238.9h.8M99.7 235.9h.8M99.4 232.7h.8M100.4 233.4h.8M100.1 238.4h.8M100.2 236.3h.8M100.3 235.8h.8M99.3 237.0h.8M100.8 239.4h.8M100.5 231.6h.8M100.2 232.9h.8M100.5 230.1h.8M100.9 236.4h.8M100.3 233.9h.8M99.7 233.1h.8M101.1 232.9h.8M100.0 236.9h.8M99.8 234.6h.8M99.2 233.5h.8M100.3 238.5h.8M99.6 232.1h.8M99.9 231.5h.8M100.6 242.3h.8M100.3 234.0h.8M101.0 233.5h.8M100.5 233.0h.8M100.0 234.6h.8M100.1 237.2h.8M99.9 237.1h.8M100.8 236.5h.8M100.3 234.2h.8M100.0 230.8h.8M100.9 235.8h.8M100.4 239.3h.8M100.0 238.0h.8M99.2 234.5h.8M100.6 237.2h.8M100.5 233.9h.8M100.3 234.8h.8M100.0 231.5h.8M99.7 234.1h.8M100.1 235.4h.8M100.5 234.5h.8M101.1 238.0h.8M103.6 238.2h.8M102.3 238.2h.8M98.6 238.3h.8M97.6 237.2h.8M97.8 236.4h.8M97.0 234.6h.8M99.4 229.8h.8M100.3 234.6h.8M99.7 240.4h.8M99.7 233.4h.8M99.7 233.1h.8M99.0 238.0h.8M97.6 235.2h.8M103.3 233.6h.8M101.7 239.6h.8M97.2 236.9h.8M97.2 237.3h.8M97.9 233.3h.8M99.4 236.5h.8M102.2 236.1h.8" stroke="#000" stroke-width="0.8" stroke-opacity="0.5" fill="none" filter="url(#bl)"/>
<path d="M97.4 220.0v45.4M68.5 243.7h45.7" stroke="#333" stroke-width="0.8" fill="none"/>
<rect x="68.5" y="220.0" width="45.7" height="45.4" fill="none" stroke="#3a3a3a" stroke-width="0.9"/>
<text transform="translate(111.6 226.9) scale(0.9 1)" font-size="6.5" text-anchor="end" fill="#111" stroke-width="0.12">94</text>
<ellipse cx="145.4" cy="234.3" rx="5.6" ry="5.6" fill="url(#g)" opacity="1"/>
<path d="M147.1 234.0h.8M147.9 233.3h.8M147.9 232.3h.8M145.8 235.0h.8M146.9 232.4h.8M142.9 233.3h.8M146.8 234.8h.8M146.9 235.1h.8M144.5 235.0h.8M143.7 239.2h.8M145.3 233.2h.8M142.7 234.9h.8M146.1 231.6h.8M146.0 235.4h.8M143.3 236.8h.8M145.5 237.0h.8M147.7 232.9h.8M147.7 233.7h.8M147.6 237.1h.8M145.1 234.1h.8M144.7 236.4h.8M144.5 232.2h.8M146.7 237.3h.8M150.6 236.6h.8M148.5 235.3h.8M148.9 232.5h.8M148.4 233.9h.8M141.9 234.6h.8M145.0 234.9h.8M144.4 234.1h.8M148.1 233.8h.8M149.1 234.7h.8M143.9 237.4h.8M145.5 229.9h.8M146.6 231.3h.8M144.3 230.9h.8M144.0 232.8h.8M143.9 230.5h.8M147.3 235.5h.8M143.4 234.5h.8M147.9 233.7h.8M145.6 232.8h.8M147.1 234.6h.8M148.8 234.7h.8M143.9 235.0h.8M143.6 232.7h.8M146.3 235.7h.8M143.1 231.1h.8M143.8 237.0h.8M145.2 227.5h.8M145.7 233.0h.8M142.7 231.7h.8M144.6 236.0h.8M146.7 231.0h.8M148.4 238.3h.8M141.1 230.9h.8M148.3 238.8h.8M147.3 235.3h.8M143.0 234.4h.8M142.2 235.3h.8M146.3 239.1h.8M144.5 236.3h.8M145.7 229.4h.8M147.3 236.9h.8M144.6 234.8h.8M145.8 230.7h.8M146.4 236.0h.8M147.3 231.6h.8M149.3 234.7h.8M149.1 234.8h.8M145.9 232.9h.8M144.9 235.7h.8M150.6 232.1h.8M146.8 234.7h.8M146.3 233.1h.8M143.0 233.9h.8M147.1 238.5h.8M143.7 234.5h.8M144.4 231.9h.8M142.5 234.0h.8M144.3 232.6h.8M145.5 234.4h.8M142.1 234.7h.8M143.4 234.5h.8M145.2 234.5h.8M142.6 233.1h.8M142.7 235.3h.8M143.6 236.6h.8M142.3 232.9h.8M146.7 234.2h.8M143.2 234.4h.8M147.1 237.1h.8M147.4 236.7h.8M142.8 232.7h.8M145.5 234.5h.8M144.4 231.0h.8M142.9 232.2h.8M144.7 234.3h.8M144.9 235.7h.8M147.0 236.4h.8M147.6 233.6h.8M143.0 231.3h.8M144.5 235.2h.8M146.6 233.9h.8M148.0 235.2h.8M140.0 234.7h.8M148.2 235.9h.8M145.0 235.7h.8M148.8 236.2h.8M144.5 233.3h.8M143.6 236.5h.8M145.5 233.2h.8M148.0 234.5h.8M145.5 238.4h.8M140.2 235.1h.8M146.9 231.7h.8M141.9 237.6h.8M143.3 236.5h.8M142.8 236.8h.8M141.4 234.7h.8M142.6 235.1h.8M143.2 233.8h.8M144.1 232.8h.8M145.3 237.7h.8M144.7 233.5h.8M142.1 233.2h.8M145.0 233.3h.8M147.5 238.4h.8M147.5 236.2h.8M145.7 233.5h.8M146.8 234.2h.8M147.4 235.4h.8M148.4 236.2h.8M149.1 230.8h.8M144.7 236.3h.8M144.8 233.8h.8M148.6 232.8h.8M148.8 233.4h.8M148.8 236.0h.8M140.2 238.2h.8M144.9 234.6h.8M138.2 235.5h.8M147.0 232.5h.8M145.5 235.4h.8M145.5 236.1h.8M145.1 231.0h.8M148.3 233.2h.8M144.8 236.0h.8M147.7 230.4h.8M146.6 233.5h.8M146.2 235.6h.8M146.4 230.6h.8M145.6 233.4h.8M143.0 234.4h.8M147.0 236.3h.8M147.0 231.5h.8M145.1 236.7h.8M147.0 235.0h.8M147.4 236.9h.8M142.6 236.9h.8M146.9 233.9h.8M147.4 229.3h.8M139.4 238.7h.8M140.8 233.2h.8M142.1 229.8h.8M144.4 232.4h.8M149.1 238.4h.8M139.3 238.9h.8M144.5 238.3h.8M140.9 232.2h.8M140.1 234.0h.8M151.0 239.4h.8M146.1 232.3h.8M151.6 233.5h.8M150.0 231.7h.8M142.4 231.0h.8M139.0 238.1h.8M153.2 236.4h.8M144.2 235.8h.8M141.6 236.2h.8M148.2 237.5h.8M146.2 239.0h.8M143.3 234.5h.8M144.5 233.5h.8M146.3 231.5h.8M146.0 237.7h.8M148.4 233.0h.8M144.4 230.1h.8M144.5 233.7h.8M147.9 234.6h.8M146.8 237.0h.8M149.6 237.5h.8M144.8 232.3h.8M145.3 232.1h.8M141.5 233.5h.8M151.1 230.9h.8M140.7 234.2h.8M146.4 235.9h.8M142.5 234.6h.8M146.9 229.7h.8M148.4 231.0h.8M139.8 238.3h.8" stroke="#000" stroke-width="0.8" stroke-opacity="0.5" fill="none" filter="url(#bl)"/>
<path d="M148.3 220.0v45.4M119.5 243.7h45.7" stroke="#333" stroke-width="0.8" fill="none"/>
<rect x="119.5" y="220.0" width="45.7" height="45.4" fill="none" stroke="#3a3a3a" stroke-width="0.9"/>
<text transform="translate(126.5 226.7) scale(0.9 1)" font-size="6.5" text-anchor="start" fill="#111" stroke-width="0.12">97</text>
<ellipse cx="187.1" cy="238.5" rx="4.6" ry="11.0" fill="url(#g)" opacity="0.95"/>
<path d="M185.2 237.8h.8M188.5 238.2h.8M188.3 243.4h.8M186.5 242.1h.8M185.2 232.8h.8M187.5 243.6h.8M185.4 238.4h.8M186.8 242.6h.8M187.3 228.5h.8M185.7 230.7h.8M186.7 241.5h.8M186.5 229.5h.8M184.8 240.4h.8M186.7 240.2h.8M185.9 239.2h.8M183.6 240.3h.8M186.5 239.8h.8M186.6 240.7h.8M186.0 236.5h.8M183.2 238.4h.8M188.6 253.1h.8M188.4 244.2h.8M188.3 241.6h.8M187.7 240.5h.8M184.7 234.9h.8M187.3 239.6h.8M185.3 237.3h.8M191.3 243.2h.8M186.1 233.9h.8M188.4 226.7h.8M184.2 235.7h.8M184.9 242.0h.8M186.1 250.8h.8M188.4 243.6h.8M188.1 233.6h.8M187.6 237.4h.8M183.6 233.7h.8M189.2 237.6h.8M185.3 234.0h.8M190.2 230.3h.8M190.6 240.7h.8M188.7 239.5h.8M189.0 237.6h.8M184.7 240.2h.8M192.0 248.7h.8M187.5 239.1h.8M189.0 236.6h.8M185.5 242.8h.8M187.0 230.3h.8M184.8 242.3h.8M186.6 234.6h.8M187.1 234.4h.8M187.6 239.0h.8M189.8 246.9h.8M188.0 234.8h.8M187.6 243.3h.8M187.2 240.4h.8M190.9 231.5h.8M186.0 243.1h.8M189.4 234.4h.8M183.4 231.1h.8M185.4 234.5h.8M187.9 234.9h.8M186.8 241.5h.8M192.8 234.8h.8M192.0 246.0h.8M184.2 239.6h.8M185.1 234.9h.8M186.8 234.3h.8M190.4 239.6h.8M189.3 228.4h.8M187.7 227.6h.8M184.4 234.1h.8M185.5 241.6h.8M182.0 239.4h.8M184.2 238.6h.8M187.9 237.4h.8M188.6 227.6h.8M184.6 236.9h.8M187.3 229.6h.8M190.2 242.7h.8M187.4 238.5h.8M186.5 238.1h.8M188.3 240.5h.8M188.1 240.1h.8M187.3 239.7h.8M186.1 240.2h.8M186.3 235.6h.8M187.3 231.8h.8M186.1 240.2h.8M189.6 245.7h.8M188.8 243.6h.8M189.2 237.4h.8M191.0 241.6h.8M190.1 236.3h.8M189.8 240.4h.8M187.8 235.5h.8M186.7 239.2h.8M191.5 248.5h.8M185.8 242.4h.8M185.9 246.0h.8M185.5 234.6h.8M187.5 235.1h.8M187.9 238.3h.8M189.1 241.3h.8M186.7 237.5h.8M183.8 243.6h.8M187.7 235.7h.8M189.0 245.3h.8M187.2 243.3h.8M186.9 232.9h.8M188.2 241.4h.8M189.8 237.4h.8M187.0 243.6h.8M184.4 235.8h.8M186.0 240.1h.8M186.8 241.2h.8M183.7 224.7h.8M188.6 229.1h.8M185.6 239.1h.8M188.1 237.9h.8M187.5 243.6h.8M186.5 239.6h.8M190.2 232.1h.8M186.0 240.1h.8M185.8 234.7h.8M187.7 237.4h.8M188.7 236.0h.8M187.1 240.2h.8M185.2 231.4h.8M188.4 232.9h.8M188.2 227.4h.8M191.0 249.2h.8M186.7 233.5h.8M187.5 234.2h.8M186.0 232.7h.8M184.3 235.3h.8M187.2 236.3h.8M188.7 241.6h.8M185.2 239.4h.8M185.8 240.1h.8M184.9 235.5h.8M189.6 238.1h.8M185.9 244.6h.8M188.2 238.4h.8M185.5 240.0h.8M187.2 228.4h.8M185.9 241.1h.8M182.6 239.8h.8M187.2 244.9h.8M188.1 224.7h.8M183.1 238.6h.8M186.8 237.9h.8M186.3 238.9h.8M185.1 235.3h.8M186.6 239.5h.8M183.4 241.9h.8M187.6 238.7h.8M189.4 237.0h.8M184.7 237.4h.8M187.0 236.5h.8M189.8 238.6h.8M187.3 234.8h.8M186.1 228.4h.8M185.4 245.2h.8M187.4 229.6h.8M186.8 237.8h.8M188.3 231.9h.8M184.2 236.9h.8M189.1 233.5h.8M186.3 238.2h.8M188.3 234.2h.8M185.7 231.9h.8M184.6 239.9h.8M186.0 245.0h.8M185.3 240.1h.8M186.4 238.9h.8M188.3 233.1h.8M189.1 237.9h.8M187.5 240.6h.8M186.1 235.1h.8M186.2 242.8h.8M188.2 238.1h.8M189.3 240.1h.8M186.5 235.8h.8M186.9 235.9h.8M185.7 239.4h.8M187.5 240.2h.8M188.9 240.0h.8M181.6 233.2h.8M187.6 234.6h.8M186.1 238.2h.8M182.7 229.0h.8M187.7 243.5h.8M186.9 239.8h.8M187.8 238.5h.8M184.5 234.7h.8M191.2 242.4h.8M187.3 236.9h.8M186.4 247.8h.8M190.0 240.2h.8M188.3 230.8h.8M188.7 241.9h.8M189.3 235.6h.8M183.2 235.6h.8M190.3 237.0h.8M186.4 237.6h.8M187.6 239.5h.8M188.9 242.0h.8M185.7 240.5h.8M187.7 234.6h.8M188.5 231.5h.8M187.0 234.2h.8M188.0 240.0h.8M184.0 242.6h.8M184.8 247.2h.8M184.9 231.5h.8M187.8 238.6h.8M194.2 237.1h.8M187.6 236.2h.8M187.3 238.3h.8M186.4 248.8h.8M186.4 254.1h.8M185.5 239.9h.8M187.8 257.2h.8M189.3 255.6h.8M190.6 241.7h.8M185.8 232.6h.8M184.7 239.4h.8M186.4 241.1h.8M185.1 247.3h.8M189.2 231.8h.8M185.2 260.5h.8M187.1 259.9h.8M184.0 238.5h.8M186.2 230.5h.8M187.4 242.3h.8M190.3 246.5h.8M185.4 252.9h.8M187.8 248.5h.8M182.4 242.1h.8M184.3 229.7h.8M185.2 247.1h.8M185.9 249.4h.8M187.9 241.3h.8M188.4 245.4h.8M183.4 244.9h.8M188.1 241.8h.8M184.5 235.4h.8M191.0 245.9h.8M187.7 233.6h.8M187.3 253.3h.8M186.6 237.2h.8M186.9 246.9h.8M187.0 238.4h.8M185.4 246.1h.8M188.6 242.0h.8M187.6 247.2h.8M188.6 238.0h.8M186.8 232.1h.8M188.5 241.5h.8M185.3 241.0h.8M194.8 233.0h.8M185.4 238.7h.8M186.0 231.8h.8M189.1 244.3h.8M189.7 240.9h.8M185.2 243.6h.8M183.3 261.7h.8M183.9 244.6h.8M184.8 246.1h.8M185.2 247.9h.8M186.6 242.5h.8M189.2 239.3h.8M189.3 249.6h.8M185.6 250.7h.8M188.1 223.1h.8M188.9 242.3h.8M190.0 241.1h.8M186.6 239.5h.8M190.5 238.7h.8M185.3 238.1h.8M189.4 239.5h.8M185.3 237.7h.8M185.7 242.7h.8M189.0 241.2h.8M184.8 234.9h.8M186.4 240.6h.8M183.7 236.3h.8M184.3 236.1h.8M189.0 238.7h.8M188.6 245.6h.8M183.6 241.2h.8M183.5 247.1h.8M194.2 248.8h.8M185.0 239.3h.8M184.4 235.9h.8M188.3 234.8h.8M184.6 241.2h.8M185.8 244.7h.8M189.4 248.9h.8M189.7 231.7h.8M186.3 245.0h.8M190.7 245.9h.8" stroke="#000" stroke-width="0.8" stroke-opacity="0.5" fill="none" filter="url(#bl)"/>
<path d="M199.3 220.0v45.4M170.9 243.7h45.7" stroke="#333" stroke-width="0.8" fill="none"/>
<rect x="170.9" y="220.0" width="45.7" height="45.4" fill="none" stroke="#3a3a3a" stroke-width="0.9"/>
<text transform="translate(174.1 226.7) scale(0.9 1)" font-size="6.5" text-anchor="start" fill="#111" stroke-width="0.12">53</text>
<ellipse cx="100.3" cy="286.0" rx="2.3" ry="13.0" fill="url(#g)" opacity="0.95"/>
<ellipse cx="100.3" cy="300.0" rx="1.8" ry="12.0" fill="url(#g)" opacity="0.45"/>
<path d="M102.2 281.1h.8M100.4 297.3h.8M100.2 278.6h.8M99.0 286.8h.8M99.6 288.9h.8M99.4 272.5h.8M99.4 292.5h.8M99.5 284.8h.8M99.0 288.9h.8M100.2 285.0h.8M100.6 276.5h.8M100.9 288.7h.8M100.2 288.0h.8M101.1 294.3h.8M101.1 290.6h.8M99.0 275.5h.8M100.0 295.0h.8M99.2 292.9h.8M99.5 292.7h.8M100.4 290.7h.8M100.1 282.4h.8M101.4 291.0h.8M101.9 284.8h.8M100.6 307.5h.8M100.1 285.6h.8M100.1 279.5h.8M100.2 284.9h.8M100.7 297.4h.8M99.7 283.3h.8M100.7 272.5h.8M100.1 297.6h.8M101.1 289.6h.8M101.3 283.8h.8M101.6 292.3h.8M100.1 280.8h.8M99.2 279.1h.8M98.9 294.0h.8M100.0 283.7h.8M99.1 291.0h.8M98.9 287.4h.8M100.0 293.1h.8M99.5 288.1h.8M100.8 273.0h.8M101.8 292.1h.8M100.1 284.0h.8M100.5 293.5h.8M99.0 288.1h.8M100.4 297.3h.8M99.7 285.1h.8M99.4 272.9h.8M98.8 285.1h.8M101.5 290.9h.8M99.0 284.9h.8M99.3 284.0h.8M100.3 297.6h.8M100.5 286.2h.8M100.5 294.7h.8M100.3 288.3h.8M99.5 277.2h.8M100.9 280.7h.8M100.4 285.1h.8M99.1 289.4h.8M101.5 281.6h.8M100.0 277.4h.8M101.0 280.2h.8M99.1 283.6h.8M99.3 281.1h.8M99.8 283.2h.8M99.7 300.3h.8M101.1 289.2h.8M99.0 281.6h.8M100.4 287.2h.8M99.5 298.3h.8M100.7 291.8h.8M100.4 286.6h.8M99.8 277.8h.8M102.0 275.4h.8M100.2 284.9h.8M101.1 286.5h.8M99.2 275.9h.8M100.2 277.9h.8M100.3 287.0h.8M100.4 272.5h.8M100.0 275.2h.8M99.6 286.9h.8M97.8 291.2h.8M99.8 289.5h.8M99.5 294.2h.8M100.1 298.3h.8M101.0 293.5h.8M102.1 285.4h.8M100.7 302.2h.8M101.1 299.1h.8M100.8 293.8h.8M100.9 281.6h.8M100.8 290.1h.8M100.1 272.6h.8M100.0 285.0h.8M100.5 272.5h.8M101.7 284.4h.8M100.9 294.5h.8M101.6 287.4h.8M99.2 298.6h.8M100.5 287.3h.8M100.6 288.0h.8M100.7 285.2h.8M99.2 291.1h.8M98.8 287.1h.8M98.6 295.8h.8M100.0 298.7h.8M102.2 290.0h.8M100.5 279.5h.8M99.3 291.3h.8M100.6 296.9h.8M100.1 291.9h.8M100.4 289.4h.8M99.9 294.0h.8M99.3 296.6h.8M99.9 272.5h.8M100.9 298.0h.8M100.5 292.8h.8M101.3 290.8h.8M99.4 283.5h.8M101.1 289.0h.8M100.4 291.7h.8M100.5 277.0h.8M101.3 292.7h.8M100.2 287.9h.8M100.5 297.7h.8M100.8 292.2h.8M100.8 286.2h.8M101.0 287.8h.8M101.3 291.9h.8M100.7 288.5h.8M100.0 291.3h.8M102.3 282.4h.8M100.3 278.7h.8M100.6 283.4h.8M99.7 277.4h.8M98.6 282.0h.8M99.7 289.9h.8M100.4 276.0h.8M100.8 278.8h.8M100.3 292.6h.8M101.0 283.7h.8M101.1 287.3h.8M101.1 278.8h.8M100.3 280.1h.8M100.4 285.3h.8M100.2 298.8h.8M100.8 298.0h.8M98.8 301.8h.8M100.8 297.3h.8M101.2 285.2h.8M101.0 312.4h.8M99.3 300.1h.8M100.3 288.5h.8M102.3 278.9h.8M99.5 298.6h.8M100.7 304.7h.8M99.7 307.9h.8M99.2 308.9h.8M100.0 295.4h.8M101.3 304.6h.8M101.4 284.9h.8M99.6 300.2h.8M99.9 307.1h.8M99.6 293.3h.8M98.5 297.3h.8M100.9 299.8h.8M101.8 300.0h.8M101.7 312.2h.8M99.9 289.1h.8M101.6 310.9h.8M101.3 287.6h.8M100.1 292.8h.8M100.4 291.8h.8M100.0 298.0h.8M100.6 294.3h.8M102.0 303.2h.8M99.5 298.9h.8M99.3 315.9h.8M101.1 302.3h.8M100.4 296.5h.8M98.7 302.2h.8M99.5 304.2h.8M99.6 297.1h.8M99.8 288.8h.8M100.7 291.5h.8M101.3 300.4h.8M100.2 306.3h.8M100.5 303.1h.8M99.7 298.0h.8M101.3 303.9h.8M101.6 294.4h.8M100.1 301.1h.8M99.7 311.6h.8M102.2 308.9h.8M101.2 311.0h.8M99.6 295.5h.8M98.8 300.6h.8M100.1 289.7h.8M101.4 307.1h.8M99.9 295.0h.8M100.2 286.9h.8M99.9 294.3h.8M101.0 301.1h.8M101.6 278.9h.8M99.2 286.0h.8M100.1 307.7h.8M100.2 299.6h.8M99.8 298.4h.8M99.3 284.3h.8M101.1 313.0h.8M100.5 308.0h.8M101.0 305.1h.8M101.7 288.8h.8M100.0 304.0h.8M100.9 309.1h.8M100.0 295.8h.8M96.8 306.9h.8M96.2 281.4h.8M99.3 287.8h.8M96.9 289.7h.8M96.6 286.7h.8M93.4 299.8h.8M92.8 275.7h.8M100.2 302.3h.8M102.1 300.4h.8M100.0 295.4h.8M101.6 304.6h.8M96.0 312.6h.8M97.4 294.2h.8M98.6 298.9h.8M97.1 296.0h.8" stroke="#000" stroke-width="0.8" stroke-opacity="0.5" fill="none" filter="url(#bl)"/>
<path d="M97.4 271.5v45.4M68.5 295.8h45.7" stroke="#333" stroke-width="0.8" fill="none"/>
<rect x="68.5" y="271.5" width="45.7" height="45.4" fill="none" stroke="#3a3a3a" stroke-width="0.9"/>
<text transform="translate(111.6 278.4) scale(0.9 1)" font-size="6.5" text-anchor="end" fill="#111" stroke-width="0.12">66</text>
<ellipse cx="145.7" cy="283.5" rx="4.6" ry="10.0" fill="url(#g)" opacity="0.95"/>
<ellipse cx="145.7" cy="296.0" rx="3.0" ry="12.0" fill="url(#g)" opacity="0.3"/>
<path d="M146.9 280.6h.8M144.9 287.7h.8M144.4 281.8h.8M147.1 279.4h.8M144.8 286.1h.8M147.7 284.6h.8M147.5 273.8h.8M145.0 283.3h.8M146.6 284.0h.8M146.0 284.4h.8M145.6 292.9h.8M148.2 280.6h.8M146.0 283.4h.8M146.4 275.7h.8M142.0 276.8h.8M147.1 280.9h.8M143.0 282.9h.8M145.1 282.6h.8M149.1 286.4h.8M149.5 286.9h.8M145.1 288.1h.8M143.4 282.8h.8M146.7 285.8h.8M145.1 280.2h.8M146.6 285.2h.8M143.2 285.7h.8M148.1 281.2h.8M149.0 272.5h.8M143.0 280.5h.8M144.4 295.3h.8M144.5 283.0h.8M147.4 280.6h.8M142.0 284.0h.8M146.3 288.6h.8M145.5 285.0h.8M144.3 282.5h.8M147.3 277.6h.8M142.0 282.1h.8M143.2 278.0h.8M144.3 285.1h.8M147.3 290.4h.8M145.2 288.3h.8M144.3 280.8h.8M146.9 279.0h.8M145.0 277.1h.8M144.6 285.5h.8M145.3 286.1h.8M146.6 287.1h.8M151.3 285.0h.8M143.7 277.9h.8M146.5 274.6h.8M145.6 288.6h.8M145.4 279.6h.8M149.0 292.2h.8M147.5 273.8h.8M147.3 278.4h.8M145.0 279.1h.8M144.3 284.7h.8M146.5 286.5h.8M145.4 280.9h.8M144.8 286.2h.8M147.3 277.5h.8M143.5 281.1h.8M144.5 277.9h.8M147.5 280.9h.8M145.8 280.5h.8M147.3 284.8h.8M144.3 299.2h.8M147.4 277.1h.8M144.5 282.5h.8M148.7 286.5h.8M147.5 283.7h.8M146.9 289.9h.8M149.0 278.7h.8M146.7 287.0h.8M144.7 279.8h.8M149.1 287.2h.8M146.7 284.2h.8M148.4 284.5h.8M146.3 280.7h.8M148.3 274.9h.8M144.3 278.3h.8M143.5 286.7h.8M143.2 282.2h.8M147.5 286.8h.8M142.1 277.3h.8M142.4 286.3h.8M143.2 288.0h.8M146.5 273.2h.8M146.9 284.9h.8M144.4 292.3h.8M147.6 279.9h.8M146.6 288.0h.8M148.4 283.6h.8M147.9 287.3h.8M144.6 281.6h.8M146.4 279.9h.8M145.7 281.5h.8M146.9 281.8h.8M146.4 280.7h.8M146.1 279.4h.8M147.4 288.5h.8M146.1 280.8h.8M147.5 277.9h.8M146.1 279.1h.8M145.7 285.7h.8M147.9 273.2h.8M147.9 285.7h.8M148.5 286.7h.8M147.3 289.3h.8M145.6 281.4h.8M146.4 279.7h.8M146.3 284.2h.8M142.5 284.1h.8M143.8 289.5h.8M149.1 283.7h.8M145.9 281.5h.8M140.3 277.3h.8M145.8 282.5h.8M146.3 283.8h.8M143.6 288.9h.8M150.6 284.0h.8M148.3 289.7h.8M147.6 289.2h.8M145.6 279.9h.8M147.0 278.2h.8M147.7 280.6h.8M147.0 282.4h.8M144.7 279.8h.8M146.4 286.7h.8M146.3 286.6h.8M146.6 289.0h.8M143.9 284.8h.8M146.5 281.5h.8M146.0 285.4h.8M146.5 279.3h.8M146.4 284.2h.8M143.1 280.0h.8M147.7 288.8h.8M147.5 272.5h.8M143.3 287.4h.8M145.8 287.6h.8M144.3 283.3h.8M145.1 285.0h.8M148.0 284.4h.8M147.0 289.5h.8M149.9 291.1h.8M146.2 283.5h.8M143.7 291.0h.8M146.2 280.5h.8M141.1 285.4h.8M149.5 285.5h.8M146.5 277.7h.8M146.8 285.0h.8M146.2 280.4h.8M144.2 287.2h.8M145.7 279.4h.8M144.4 275.3h.8M144.9 277.5h.8M146.6 283.6h.8M143.5 284.9h.8M149.2 285.1h.8M143.8 280.0h.8M147.5 287.1h.8M144.6 281.0h.8M143.4 282.5h.8M146.6 288.0h.8M146.2 282.8h.8M145.4 274.9h.8M145.7 286.8h.8M144.6 283.5h.8M146.7 281.7h.8M144.8 289.4h.8M145.8 280.6h.8M148.0 286.5h.8M143.2 284.1h.8M144.6 295.4h.8M144.4 275.2h.8M144.2 284.4h.8M143.1 285.1h.8M145.2 288.5h.8M146.1 281.6h.8M145.5 280.6h.8M142.6 289.9h.8M147.1 281.5h.8M147.1 284.8h.8M145.9 283.3h.8M143.7 285.3h.8M144.0 277.3h.8M149.6 281.0h.8M149.1 283.2h.8M146.7 284.0h.8M143.9 288.5h.8M148.2 285.8h.8M146.1 286.1h.8M149.0 283.2h.8M144.6 289.3h.8M146.6 280.7h.8M145.3 283.0h.8M147.2 276.6h.8M144.0 272.5h.8M147.1 286.9h.8M145.6 283.6h.8M142.7 293.9h.8M145.6 283.6h.8M145.3 292.6h.8M143.9 300.4h.8M146.2 284.7h.8M145.3 290.8h.8M145.7 306.0h.8M147.2 299.4h.8M144.7 276.9h.8M147.4 310.2h.8M145.3 285.4h.8M145.3 294.2h.8M147.7 287.8h.8M146.3 287.4h.8M145.0 285.3h.8M145.5 297.1h.8M146.0 284.6h.8M143.4 280.2h.8M146.8 286.4h.8M145.7 291.5h.8M143.6 273.5h.8M144.2 298.7h.8M147.1 285.1h.8M143.7 298.1h.8M149.1 304.0h.8M144.0 294.4h.8M146.0 296.4h.8M141.6 287.5h.8M145.6 285.5h.8M144.8 274.5h.8M146.4 289.8h.8M146.0 286.7h.8M145.1 272.5h.8M149.1 294.0h.8M146.9 305.2h.8M144.5 295.2h.8M146.2 302.1h.8M141.0 289.2h.8M144.7 282.5h.8M147.6 292.2h.8M144.8 288.5h.8M145.9 281.4h.8M143.8 300.9h.8M146.9 293.1h.8M145.8 285.7h.8M145.6 293.4h.8M147.1 290.3h.8M148.3 297.2h.8M146.9 306.0h.8M142.9 286.1h.8M146.3 280.9h.8M146.1 304.0h.8M143.8 313.2h.8M143.0 286.2h.8M145.0 283.5h.8M145.1 280.9h.8M145.5 291.6h.8M144.4 292.6h.8M145.9 289.3h.8M146.1 299.2h.8M145.1 284.3h.8M146.2 286.3h.8M144.7 280.4h.8M143.1 304.2h.8M145.6 301.4h.8M147.0 303.5h.8M149.9 284.1h.8M146.9 288.3h.8M143.5 292.7h.8M144.9 288.5h.8M144.5 282.4h.8M141.6 284.5h.8M142.1 274.3h.8M137.6 293.8h.8M140.8 280.4h.8M141.9 281.5h.8M138.9 294.7h.8M142.9 277.5h.8M146.8 280.2h.8M141.0 283.5h.8M139.5 280.5h.8M139.9 284.4h.8M143.2 285.4h.8M148.3 287.7h.8M143.2 283.3h.8M142.8 288.0h.8M138.6 282.0h.8M143.7 287.5h.8M144.7 290.9h.8M141.3 273.7h.8M142.5 282.6h.8M140.5 285.0h.8M145.0 272.7h.8M147.0 272.5h.8M143.9 285.8h.8M144.3 280.1h.8M142.8 288.6h.8M140.6 283.9h.8M140.1 283.9h.8M141.3 281.9h.8M143.0 284.5h.8M142.6 278.6h.8M145.9 280.9h.8" stroke="#000" stroke-width="0.8" stroke-opacity="0.5" fill="none" filter="url(#bl)"/>
<path d="M148.3 271.5v45.4M119.5 295.8h45.7" stroke="#333" stroke-width="0.8" fill="none"/>
<rect x="119.5" y="271.5" width="45.7" height="45.4" fill="none" stroke="#3a3a3a" stroke-width="0.9"/>
<text transform="translate(126.5 278.2) scale(0.9 1)" font-size="6.5" text-anchor="start" fill="#111" stroke-width="0.12">87</text>
<ellipse cx="186.8" cy="282.5" rx="5.0" ry="10.0" fill="url(#g)" opacity="1"/>
<path d="M188.5 289.1h.8M186.2 281.2h.8M187.9 278.1h.8M186.8 282.0h.8M186.0 280.6h.8M184.7 284.2h.8M188.6 290.1h.8M185.0 283.9h.8M187.6 286.8h.8M183.4 291.6h.8M187.4 290.1h.8M187.6 282.5h.8M185.4 279.1h.8M183.2 291.7h.8M186.4 277.4h.8M187.0 274.0h.8M185.6 273.2h.8M185.3 287.4h.8M188.8 275.6h.8M186.5 281.0h.8M185.9 281.6h.8M188.6 288.0h.8M186.7 276.0h.8M185.2 282.4h.8M188.7 283.5h.8M186.0 288.5h.8M188.8 281.1h.8M185.3 283.4h.8M187.5 281.0h.8M189.5 287.1h.8M187.8 286.4h.8M187.9 280.5h.8M187.8 284.7h.8M188.6 275.6h.8M187.0 282.5h.8M187.8 278.3h.8M186.3 280.4h.8M191.0 286.8h.8M184.9 291.9h.8M188.6 283.2h.8M184.6 281.7h.8M188.0 280.8h.8M189.6 285.7h.8M184.4 281.5h.8M190.6 286.7h.8M184.7 289.2h.8M185.0 285.1h.8M187.5 280.6h.8M184.4 285.7h.8M188.9 279.2h.8M187.8 274.4h.8M180.9 287.4h.8M183.7 290.9h.8M185.2 288.3h.8M187.7 280.7h.8M184.4 272.5h.8M185.2 279.0h.8M188.1 285.1h.8M184.6 280.5h.8M187.4 288.5h.8M183.8 278.6h.8M188.9 284.5h.8M189.9 283.3h.8M184.3 283.4h.8M181.6 276.0h.8M183.1 281.8h.8M188.8 283.4h.8M185.5 280.5h.8M189.0 276.4h.8M183.8 280.1h.8M184.7 277.9h.8M186.5 283.8h.8M189.1 286.6h.8M186.3 283.7h.8M184.5 283.9h.8M187.4 281.4h.8M186.9 283.1h.8M187.8 273.4h.8M186.4 282.5h.8M185.4 286.2h.8M186.8 279.8h.8M181.4 285.3h.8M187.3 275.4h.8M189.4 282.4h.8M187.9 281.3h.8M184.7 284.3h.8M183.4 282.8h.8M189.6 292.2h.8M185.6 272.5h.8M186.3 275.6h.8M187.2 279.1h.8M185.5 282.6h.8M186.8 279.3h.8M190.0 279.1h.8M185.7 275.1h.8M190.9 276.0h.8M187.6 278.2h.8M187.4 289.0h.8M188.8 278.5h.8M188.7 294.6h.8M189.0 287.0h.8M188.0 280.9h.8M185.5 285.8h.8M190.3 286.8h.8M186.4 276.7h.8M184.9 274.8h.8M188.7 288.8h.8M188.2 277.8h.8M186.7 286.1h.8M186.9 285.2h.8M188.0 274.6h.8M190.9 285.1h.8M186.6 284.7h.8M184.0 288.0h.8M185.5 282.0h.8M187.9 284.2h.8M186.3 283.9h.8M185.3 281.1h.8M188.3 289.6h.8M188.3 286.6h.8M186.3 289.1h.8M187.4 283.8h.8M185.4 287.4h.8M185.4 277.9h.8M186.0 279.4h.8M183.8 286.7h.8M187.5 281.1h.8M186.6 280.4h.8M185.6 282.9h.8M187.0 275.0h.8M187.0 282.9h.8M185.1 284.4h.8M185.4 280.7h.8M185.0 277.1h.8M189.6 290.1h.8M183.1 284.1h.8M186.5 277.5h.8M188.5 279.5h.8M184.3 274.9h.8M184.6 274.3h.8M184.5 273.5h.8M182.7 278.4h.8M189.2 284.1h.8M186.1 285.5h.8M184.2 281.6h.8M185.2 286.8h.8M186.9 284.7h.8M185.8 277.0h.8M184.6 278.4h.8M187.6 283.5h.8M184.6 285.3h.8M185.6 287.1h.8M186.9 276.0h.8M184.9 273.4h.8M186.6 291.3h.8M185.1 280.9h.8M192.3 286.7h.8M185.6 282.4h.8M188.0 276.0h.8M184.6 288.6h.8M184.0 284.3h.8M186.2 288.9h.8M185.7 285.0h.8M185.7 277.8h.8M186.4 282.1h.8M188.3 286.8h.8M190.6 279.1h.8M190.8 283.1h.8M186.5 287.5h.8M190.4 276.7h.8M190.1 280.6h.8M185.0 283.1h.8M185.3 286.6h.8M186.2 281.9h.8M190.6 279.1h.8M186.1 284.8h.8M185.8 279.6h.8M189.4 284.2h.8M186.0 283.9h.8M186.0 281.4h.8M187.6 286.2h.8M186.7 287.7h.8M181.1 276.4h.8M183.6 284.7h.8M187.9 281.6h.8M183.2 281.0h.8M189.0 282.7h.8M186.2 287.7h.8M186.9 281.7h.8M186.9 280.9h.8M182.4 276.7h.8M184.8 281.6h.8M184.0 282.4h.8M186.8 278.1h.8M189.6 281.0h.8M185.8 284.6h.8M186.5 288.7h.8M182.1 281.1h.8M185.5 291.4h.8M185.8 286.9h.8M185.9 286.4h.8M187.6 285.2h.8M189.4 282.9h.8M186.3 279.7h.8M187.2 282.2h.8M182.9 282.8h.8M187.6 283.3h.8M186.4 289.5h.8M182.5 291.6h.8M187.1 285.0h.8M184.9 287.1h.8M188.5 279.5h.8M187.3 273.7h.8M186.5 282.2h.8M190.1 283.8h.8M186.0 289.0h.8M185.7 293.6h.8M186.4 283.9h.8M186.6 288.6h.8M184.5 287.7h.8M187.6 283.7h.8M187.3 286.4h.8M185.2 284.4h.8M183.0 289.7h.8M189.0 278.0h.8M189.2 272.5h.8M188.4 283.3h.8M188.6 286.9h.8M190.4 287.5h.8M187.2 280.2h.8M188.2 285.6h.8M186.0 289.8h.8M188.4 294.6h.8M185.9 281.8h.8M185.3 290.9h.8M188.9 292.7h.8M185.0 288.1h.8M184.6 291.0h.8M188.6 308.1h.8M187.4 292.1h.8M183.0 306.0h.8M189.3 293.9h.8M185.0 287.3h.8M186.4 296.1h.8M187.0 289.4h.8M190.8 291.7h.8M187.2 276.6h.8M188.8 294.6h.8M187.0 288.1h.8M188.1 300.0h.8M184.7 292.9h.8M187.2 289.5h.8M186.1 284.8h.8M185.4 292.3h.8M187.8 289.5h.8M189.1 286.7h.8M188.1 305.1h.8M186.6 291.1h.8M188.5 298.3h.8M185.2 302.3h.8M187.8 294.9h.8M188.2 296.4h.8M187.1 295.6h.8M186.8 298.7h.8M187.4 296.0h.8M186.2 295.5h.8M186.8 293.0h.8M188.5 288.7h.8M183.8 289.0h.8M189.5 287.6h.8M188.0 293.4h.8M187.6 301.1h.8M185.4 285.5h.8M186.5 287.8h.8M186.1 285.2h.8M188.4 291.6h.8M188.3 299.1h.8M189.3 289.7h.8M187.3 294.1h.8M183.6 275.9h.8M186.6 283.2h.8M188.7 278.5h.8M185.1 280.2h.8M181.9 286.9h.8M188.6 289.0h.8M186.7 284.7h.8M192.9 272.5h.8M185.2 277.5h.8M186.6 287.1h.8M185.9 293.5h.8M187.4 291.1h.8M181.3 284.0h.8M191.4 283.2h.8M189.1 282.8h.8M186.4 293.8h.8M185.9 286.2h.8M188.8 280.4h.8M188.3 289.8h.8M185.8 289.2h.8M186.6 274.9h.8M188.2 281.9h.8M185.7 290.1h.8M186.0 289.6h.8M185.7 278.8h.8" stroke="#000" stroke-width="0.8" stroke-opacity="0.5" fill="none" filter="url(#bl)"/>
<path d="M199.3 271.5v45.4M170.9 295.8h45.7" stroke="#333" stroke-width="0.8" fill="none"/>
<rect x="170.9" y="271.5" width="45.7" height="45.4" fill="none" stroke="#3a3a3a" stroke-width="0.9"/>
<text transform="translate(174.1 278.2) scale(0.9 1)" font-size="6.5" text-anchor="start" fill="#111" stroke-width="0.12">95</text>
<ellipse cx="100.3" cy="358.5" rx="2.6" ry="7.5" fill="url(#g)" opacity="0.95"/>
<ellipse cx="100.3" cy="349.0" rx="1.6" ry="9.0" fill="url(#g)" opacity="0.35"/>
<path d="M100.3 357.6h.8M101.1 358.6h.8M100.6 355.9h.8M99.4 358.5h.8M100.1 357.9h.8M100.9 361.6h.8M100.7 360.4h.8M99.5 360.0h.8M102.4 361.5h.8M100.5 356.7h.8M99.0 362.5h.8M100.0 359.1h.8M97.9 357.1h.8M99.7 359.7h.8M100.3 355.4h.8M102.5 363.7h.8M100.5 359.3h.8M100.6 354.2h.8M101.0 355.3h.8M100.5 357.1h.8M99.8 356.9h.8M101.5 359.9h.8M100.8 361.1h.8M101.7 361.5h.8M101.2 360.1h.8M99.5 355.8h.8M99.9 361.8h.8M100.0 362.1h.8M100.0 352.9h.8M100.7 356.9h.8M100.2 357.5h.8M99.6 356.3h.8M101.6 361.6h.8M101.5 359.9h.8M100.4 358.7h.8M99.4 355.0h.8M99.8 352.5h.8M99.7 355.8h.8M99.5 356.1h.8M99.5 355.9h.8M100.5 352.3h.8M100.6 354.0h.8M100.7 357.2h.8M99.5 359.5h.8M100.6 356.9h.8M102.1 357.8h.8M100.5 358.3h.8M100.0 358.3h.8M102.7 362.0h.8M100.6 356.1h.8M99.8 359.1h.8M101.1 354.6h.8M99.7 361.9h.8M100.0 360.6h.8M101.2 361.4h.8M99.8 358.8h.8M99.0 358.1h.8M101.0 354.7h.8M101.1 359.4h.8M99.1 362.4h.8M100.0 350.4h.8M101.3 363.6h.8M100.6 356.1h.8M101.1 359.9h.8M100.2 356.1h.8M99.8 358.0h.8M99.9 360.9h.8M100.1 357.9h.8M100.5 363.8h.8M98.0 358.6h.8M98.7 360.4h.8M100.4 356.7h.8M100.9 357.0h.8M99.8 357.3h.8M100.4 360.0h.8M99.4 363.4h.8M99.1 358.6h.8M100.5 354.7h.8M100.3 356.7h.8M99.9 354.5h.8M99.2 359.9h.8M100.4 358.6h.8M100.3 355.4h.8M100.1 357.4h.8M100.3 361.2h.8M100.0 359.8h.8M100.8 356.8h.8M100.7 360.7h.8M101.9 359.6h.8M101.6 356.9h.8M100.3 359.0h.8M99.3 364.0h.8M100.9 355.3h.8M99.8 361.5h.8M101.7 358.1h.8M99.0 360.3h.8M100.0 359.7h.8M101.7 359.3h.8M100.3 358.0h.8M101.0 358.5h.8M100.9 360.5h.8M99.9 359.8h.8M101.1 354.2h.8M99.6 359.8h.8M100.1 362.3h.8M102.2 361.1h.8M100.2 359.1h.8M100.7 353.2h.8M99.4 360.2h.8M101.5 360.4h.8M99.5 362.8h.8M99.7 355.7h.8M99.8 357.8h.8M99.5 356.9h.8M99.1 357.7h.8M100.1 353.4h.8M99.9 357.1h.8M100.2 357.2h.8M99.5 357.4h.8M99.5 363.2h.8M99.8 352.6h.8M99.9 342.7h.8M101.2 344.2h.8M99.9 358.3h.8M101.2 350.9h.8M100.6 346.8h.8M99.8 360.6h.8M99.7 357.2h.8M100.4 354.3h.8M100.1 344.2h.8M100.4 349.9h.8M99.8 358.7h.8M100.8 338.0h.8M99.8 340.6h.8M99.9 345.3h.8M100.1 355.8h.8M99.3 351.4h.8M100.0 352.8h.8M100.1 351.2h.8M99.2 350.6h.8M98.9 357.2h.8M101.3 368.0h.8M100.1 352.8h.8M100.2 357.8h.8M99.8 347.4h.8M101.5 359.5h.8M100.1 350.6h.8M98.9 351.1h.8M100.7 347.3h.8M99.5 345.5h.8M100.6 346.8h.8M100.2 344.3h.8M101.3 342.4h.8M100.7 361.0h.8M100.0 352.7h.8M101.4 355.9h.8M102.4 353.1h.8M99.9 341.6h.8M101.1 350.3h.8M100.6 344.8h.8M95.8 355.1h.8M97.6 358.1h.8M98.2 356.7h.8M98.1 356.5h.8M98.2 363.9h.8M97.1 356.8h.8M97.9 366.2h.8M101.0 357.6h.8M103.3 355.6h.8M100.6 358.5h.8M97.3 366.2h.8M98.8 357.5h.8M100.2 359.7h.8M100.4 350.3h.8M100.9 360.0h.8M100.9 353.4h.8M98.8 357.6h.8M97.1 362.6h.8M94.0 357.2h.8M100.5 360.4h.8M99.4 357.2h.8" stroke="#000" stroke-width="0.8" stroke-opacity="0.5" fill="none" filter="url(#bl)"/>
<path d="M97.4 323.6v45.4M68.5 352.3h45.7" stroke="#333" stroke-width="0.8" fill="none"/>
<rect x="68.5" y="323.6" width="45.7" height="45.4" fill="none" stroke="#3a3a3a" stroke-width="0.9"/>
<text transform="translate(111.6 330.5) scale(0.9 1)" font-size="6.5" text-anchor="end" fill="#111" stroke-width="0.12">9</text>
<ellipse cx="145.7" cy="359.0" rx="4.6" ry="9.0" fill="url(#g)" opacity="0.9"/>
<ellipse cx="145.7" cy="348.0" rx="3.0" ry="9.0" fill="url(#g)" opacity="0.35"/>
<path d="M145.1 350.5h.8M146.2 361.0h.8M147.8 361.7h.8M145.9 350.5h.8M145.7 356.7h.8M143.9 362.9h.8M142.5 355.0h.8M145.9 356.3h.8M145.4 358.4h.8M146.2 363.9h.8M147.7 361.1h.8M147.2 355.9h.8M144.0 353.1h.8M146.2 352.5h.8M146.2 359.9h.8M145.2 349.9h.8M141.4 356.2h.8M144.2 360.9h.8M145.5 353.7h.8M147.1 357.3h.8M145.1 358.1h.8M143.0 361.6h.8M148.3 353.1h.8M145.6 358.8h.8M144.8 358.3h.8M146.7 359.0h.8M147.0 352.2h.8M145.5 360.6h.8M144.6 355.2h.8M144.6 358.1h.8M147.2 355.1h.8M145.4 366.3h.8M146.6 358.8h.8M142.0 367.1h.8M144.7 356.0h.8M144.9 357.4h.8M144.8 364.5h.8M142.0 357.1h.8M144.8 360.3h.8M148.6 363.2h.8M146.2 357.1h.8M144.6 355.9h.8M144.3 357.6h.8M143.1 362.6h.8M146.1 360.3h.8M144.2 363.7h.8M144.9 357.5h.8M147.3 356.7h.8M147.4 354.1h.8M146.8 357.4h.8M142.5 356.2h.8M144.6 358.1h.8M147.9 354.8h.8M143.4 355.7h.8M148.0 357.3h.8M145.6 362.4h.8M147.4 357.2h.8M144.8 356.3h.8M143.4 362.7h.8M143.7 364.0h.8M148.4 357.4h.8M145.0 357.6h.8M143.3 351.3h.8M147.2 352.4h.8M142.7 358.4h.8M145.3 364.1h.8M146.3 366.0h.8M146.2 361.9h.8M146.4 356.7h.8M145.5 360.6h.8M140.9 352.7h.8M146.1 358.3h.8M145.5 353.9h.8M145.2 358.6h.8M146.5 364.3h.8M147.1 367.3h.8M146.0 359.5h.8M148.5 360.2h.8M149.8 352.0h.8M146.2 356.0h.8M145.0 364.7h.8M143.2 363.2h.8M146.7 361.9h.8M142.2 360.4h.8M148.8 365.2h.8M147.5 357.6h.8M144.6 357.8h.8M146.9 368.0h.8M144.0 355.2h.8M143.5 360.4h.8M147.1 357.1h.8M143.7 364.6h.8M146.1 357.6h.8M145.4 357.2h.8M148.6 357.4h.8M146.2 361.8h.8M148.6 354.6h.8M147.3 352.7h.8M144.2 358.1h.8M143.4 357.2h.8M141.6 360.8h.8M145.7 357.2h.8M140.3 356.2h.8M144.0 359.8h.8M141.0 360.3h.8M144.4 362.7h.8M146.9 358.9h.8M143.9 351.4h.8M144.6 358.4h.8M144.7 358.7h.8M146.1 358.2h.8M142.8 360.8h.8M145.8 357.5h.8M145.4 363.1h.8M143.6 357.5h.8M143.7 364.2h.8M147.9 354.2h.8M147.0 349.2h.8M146.4 354.8h.8M144.0 368.0h.8M144.9 357.6h.8M143.1 358.2h.8M142.2 359.7h.8M144.7 356.9h.8M144.4 359.7h.8M143.2 359.1h.8M143.3 366.9h.8M146.3 363.5h.8M144.7 359.8h.8M142.6 361.5h.8M149.4 361.1h.8M142.3 354.4h.8M146.0 363.2h.8M143.7 356.2h.8M146.9 361.9h.8M145.7 359.3h.8M147.5 362.3h.8M145.4 364.4h.8M144.1 361.1h.8M148.3 356.8h.8M145.5 357.5h.8M145.2 361.0h.8M145.3 357.1h.8M144.2 357.2h.8M146.2 358.3h.8M148.7 357.3h.8M148.4 360.8h.8M146.1 356.9h.8M146.8 359.1h.8M147.0 355.8h.8M144.4 351.8h.8M148.4 361.9h.8M146.0 362.7h.8M142.1 356.7h.8M146.7 362.0h.8M143.8 360.0h.8M146.1 354.1h.8M146.8 363.5h.8M145.0 350.8h.8M146.1 358.5h.8M148.1 361.6h.8M142.9 354.3h.8M142.0 365.2h.8M145.3 356.4h.8M145.1 363.8h.8M149.5 358.0h.8M147.4 361.5h.8M146.6 358.6h.8M145.4 368.0h.8M141.9 360.5h.8M143.0 362.9h.8M144.9 361.7h.8M145.9 359.6h.8M144.7 357.8h.8M145.7 360.5h.8M146.9 362.9h.8M144.2 362.5h.8M144.7 361.1h.8M143.7 358.4h.8M147.8 361.8h.8M144.1 347.0h.8M145.6 366.9h.8M142.4 351.9h.8M144.6 347.7h.8M145.4 350.7h.8M143.4 338.2h.8M143.9 351.3h.8M147.2 347.3h.8M146.5 352.2h.8M147.4 347.2h.8M147.6 332.8h.8M146.7 333.5h.8M147.0 345.2h.8M146.2 341.5h.8M147.8 354.4h.8M143.3 342.6h.8M145.4 351.8h.8M147.4 348.1h.8M147.1 358.4h.8M145.8 349.6h.8M145.2 350.3h.8M147.1 343.0h.8M145.5 351.3h.8M143.9 353.1h.8M147.6 348.3h.8M145.1 353.3h.8M146.0 342.8h.8M143.1 347.7h.8M141.6 351.5h.8M146.5 347.2h.8M148.4 356.4h.8M142.1 352.9h.8M144.9 345.3h.8M146.6 343.4h.8M146.0 349.0h.8M145.8 344.7h.8M145.7 346.6h.8M144.2 342.3h.8M147.5 353.7h.8M147.3 350.1h.8M146.3 350.9h.8M142.1 354.0h.8M148.4 335.2h.8M145.6 349.3h.8M146.6 347.6h.8M148.8 353.1h.8M147.8 352.1h.8M145.6 352.2h.8M147.4 356.9h.8M146.7 337.8h.8M144.8 342.6h.8M145.9 356.3h.8M142.9 357.7h.8M143.2 344.1h.8M146.0 355.8h.8M148.0 354.3h.8M144.2 340.8h.8M147.7 345.4h.8M146.0 351.1h.8M148.6 348.6h.8M152.2 361.8h.8M147.9 356.4h.8M149.0 356.8h.8M143.4 359.8h.8M141.3 356.9h.8M143.5 357.7h.8M150.8 353.2h.8M152.4 363.5h.8M142.8 352.3h.8M145.2 363.6h.8M136.7 352.6h.8M150.4 354.9h.8M141.2 356.2h.8M148.9 361.7h.8M150.4 358.8h.8M140.9 356.0h.8M142.6 352.7h.8M148.3 362.2h.8M150.7 358.1h.8M143.8 359.7h.8M141.9 357.2h.8M147.0 355.8h.8M150.3 360.8h.8M141.7 359.2h.8M142.9 362.8h.8M149.9 358.8h.8M146.4 352.0h.8M142.7 361.2h.8M145.7 358.2h.8M147.4 357.0h.8M149.4 344.8h.8M146.8 354.3h.8M145.7 358.7h.8M139.6 355.3h.8M147.6 359.1h.8M147.5 360.5h.8M146.4 357.9h.8M145.8 354.0h.8M146.1 359.8h.8M149.1 359.5h.8M144.4 356.9h.8M141.3 349.9h.8" stroke="#000" stroke-width="0.8" stroke-opacity="0.5" fill="none" filter="url(#bl)"/>
<path d="M148.3 323.6v45.4M119.5 352.3h45.7" stroke="#333" stroke-width="0.8" fill="none"/>
<rect x="119.5" y="323.6" width="45.7" height="45.4" fill="none" stroke="#3a3a3a" stroke-width="0.9"/>
<text transform="translate(126.5 330.3) scale(0.9 1)" font-size="6.5" text-anchor="start" fill="#111" stroke-width="0.12">16</text>
<ellipse cx="187.1" cy="345.0" rx="4.8" ry="7.5" fill="url(#g)" opacity="0.9"/>
<ellipse cx="187.1" cy="358.3" rx="4.6" ry="7.5" fill="url(#g)" opacity="0.9"/>
<path d="M184.5 346.9h.8M188.8 342.1h.8M186.5 348.2h.8M183.3 344.2h.8M186.7 345.4h.8M187.2 336.2h.8M188.4 345.0h.8M188.0 338.7h.8M187.9 347.9h.8M185.4 342.5h.8M183.5 343.6h.8M185.8 344.5h.8M189.9 340.6h.8M183.9 345.1h.8M188.9 341.0h.8M183.9 344.3h.8M184.3 347.9h.8M187.3 349.3h.8M185.3 349.8h.8M186.5 344.3h.8M184.6 341.9h.8M187.3 346.6h.8M188.8 350.2h.8M184.0 342.1h.8M188.2 349.5h.8M187.8 344.6h.8M188.7 336.3h.8M182.2 345.3h.8M188.9 351.2h.8M184.6 347.4h.8M186.5 348.6h.8M186.1 346.4h.8M184.9 339.5h.8M185.2 337.2h.8M185.5 341.5h.8M187.4 343.8h.8M188.5 341.7h.8M186.4 342.4h.8M188.7 347.6h.8M187.3 349.9h.8M189.4 339.4h.8M184.2 341.5h.8M187.3 344.7h.8M186.9 344.4h.8M187.3 337.2h.8M187.7 354.7h.8M188.7 347.4h.8M187.3 346.2h.8M188.1 338.6h.8M186.4 346.0h.8M186.7 341.1h.8M185.7 346.7h.8M189.3 346.0h.8M188.6 345.2h.8M189.7 346.4h.8M186.0 343.1h.8M186.6 345.6h.8M192.2 337.1h.8M189.3 347.4h.8M184.0 344.4h.8M188.5 353.4h.8M187.7 345.4h.8M186.3 337.2h.8M186.4 350.1h.8M185.2 342.6h.8M185.9 341.3h.8M185.4 344.9h.8M184.6 349.3h.8M186.2 351.5h.8M185.2 343.7h.8M188.5 345.7h.8M189.2 345.8h.8M186.7 342.8h.8M186.3 343.3h.8M188.3 344.5h.8M186.7 344.8h.8M191.2 348.5h.8M181.5 338.6h.8M182.1 346.6h.8M184.7 346.2h.8M188.0 349.6h.8M188.6 343.7h.8M186.0 343.8h.8M187.0 345.3h.8M186.4 343.1h.8M188.0 343.0h.8M191.3 342.8h.8M182.3 342.8h.8M191.7 341.6h.8M189.2 343.0h.8M186.4 342.4h.8M188.1 342.5h.8M187.0 340.5h.8M188.0 348.1h.8M188.0 346.0h.8M188.7 344.8h.8M184.9 341.4h.8M188.3 347.1h.8M185.7 344.2h.8M186.4 344.6h.8M188.7 345.3h.8M186.1 344.6h.8M187.7 348.2h.8M187.7 342.3h.8M187.3 342.8h.8M184.5 345.4h.8M188.1 344.3h.8M187.4 346.8h.8M191.7 348.0h.8M184.9 349.5h.8M189.3 348.1h.8M186.2 344.0h.8M186.4 344.4h.8M190.7 343.7h.8M186.8 348.8h.8M188.8 344.2h.8M187.3 342.2h.8M185.2 341.5h.8M186.6 347.5h.8M186.2 342.1h.8M186.6 336.2h.8M191.0 347.3h.8M188.1 346.1h.8M183.4 347.5h.8M191.0 348.3h.8M187.9 346.7h.8M189.0 346.3h.8M190.4 345.2h.8M185.4 342.4h.8M187.8 338.0h.8M186.8 338.5h.8M186.4 346.2h.8M186.5 347.7h.8M187.3 345.1h.8M189.5 342.5h.8M188.7 347.1h.8M187.7 344.9h.8M189.6 345.0h.8M182.2 343.8h.8M187.2 341.2h.8M187.9 341.7h.8M187.8 346.3h.8M190.1 350.4h.8M187.5 350.8h.8M190.0 344.4h.8M186.7 346.5h.8M188.6 344.7h.8M187.3 345.5h.8M186.6 346.4h.8M188.2 348.0h.8M184.8 354.3h.8M190.7 354.1h.8M186.9 361.3h.8M185.2 355.4h.8M191.8 358.8h.8M185.3 354.6h.8M187.1 358.2h.8M185.7 356.8h.8M189.5 356.0h.8M181.8 362.1h.8M187.8 358.7h.8M183.9 355.3h.8M190.2 366.3h.8M191.3 355.3h.8M188.9 354.6h.8M185.6 352.9h.8M189.5 363.7h.8M191.5 359.1h.8M187.6 359.5h.8M186.4 362.0h.8M190.1 358.8h.8M184.5 360.8h.8M186.5 363.9h.8M187.0 359.3h.8M187.4 361.1h.8M189.3 359.1h.8M186.8 358.9h.8M184.9 363.1h.8M184.3 360.4h.8M186.8 359.4h.8M188.1 352.3h.8M189.1 355.5h.8M188.4 356.2h.8M184.4 358.4h.8M188.3 359.7h.8M185.8 359.0h.8M189.7 357.9h.8M186.5 359.6h.8M186.6 359.6h.8M186.0 361.4h.8M189.1 352.6h.8M186.9 361.8h.8M192.6 364.9h.8M189.5 362.2h.8M184.8 357.1h.8M187.1 355.5h.8M189.2 358.3h.8M188.7 362.9h.8M188.4 359.4h.8M187.6 351.9h.8M184.1 347.6h.8M184.1 359.1h.8M188.8 366.3h.8M185.9 353.2h.8M187.2 356.3h.8M188.4 358.5h.8M183.4 359.4h.8M183.4 361.3h.8M188.2 353.1h.8M186.0 358.7h.8M186.4 356.2h.8M189.4 361.1h.8M186.6 359.6h.8M187.0 362.0h.8M187.7 354.3h.8M183.7 354.7h.8M190.6 356.0h.8M187.9 356.7h.8M186.0 355.9h.8M189.4 354.2h.8M185.3 356.4h.8M185.7 352.9h.8M184.7 361.5h.8M186.7 356.7h.8M185.6 354.1h.8M187.6 358.8h.8M185.8 352.9h.8M187.6 359.4h.8M188.0 357.1h.8M187.9 363.9h.8M187.9 360.0h.8M187.3 355.7h.8M185.5 361.2h.8M183.1 358.6h.8M187.8 360.4h.8M184.3 348.1h.8M187.8 356.7h.8M187.0 356.7h.8M187.0 362.5h.8M187.1 354.7h.8M188.3 359.4h.8M185.2 357.6h.8M187.7 353.7h.8M189.3 356.3h.8M188.7 360.0h.8M189.3 357.5h.8M186.5 357.6h.8M186.9 357.9h.8M190.8 358.5h.8M188.1 359.2h.8M187.6 357.9h.8M189.1 353.3h.8M185.4 357.5h.8M186.8 358.5h.8M188.0 363.6h.8M187.0 354.9h.8M190.1 363.3h.8M188.0 356.4h.8M188.9 363.4h.8M185.5 351.4h.8M187.1 357.2h.8M187.1 350.4h.8M188.1 353.4h.8M188.1 356.7h.8M187.1 359.7h.8M188.3 355.6h.8M191.3 358.9h.8M187.2 355.4h.8M185.8 363.4h.8M189.5 356.2h.8M190.1 364.6h.8M187.5 364.1h.8M189.0 355.1h.8M183.0 359.9h.8M188.1 356.6h.8M186.8 363.0h.8M191.5 359.2h.8M187.6 364.1h.8M190.8 357.5h.8M186.8 357.2h.8M186.6 355.6h.8M186.1 358.6h.8M184.8 359.5h.8M186.0 358.3h.8M189.3 359.1h.8M184.1 360.6h.8M187.3 357.9h.8M189.4 356.0h.8M187.6 354.8h.8M188.2 356.3h.8M187.8 357.0h.8M188.2 361.5h.8M183.3 361.2h.8M190.1 355.8h.8M187.9 360.1h.8M186.0 355.2h.8M186.6 360.9h.8M186.9 352.8h.8M188.5 361.4h.8M184.8 357.6h.8M187.7 339.1h.8M186.7 352.1h.8M184.1 349.0h.8M187.3 361.3h.8M187.0 348.3h.8M189.1 349.4h.8M188.7 360.1h.8M190.4 340.4h.8M188.5 357.2h.8M183.9 346.3h.8M189.1 344.2h.8M183.7 354.4h.8M185.1 352.7h.8M187.2 344.2h.8M184.7 353.5h.8M186.0 362.4h.8M189.8 357.4h.8M185.4 352.7h.8M184.6 348.1h.8M183.5 351.3h.8M194.8 355.1h.8M185.8 350.4h.8M187.1 355.0h.8M187.2 358.5h.8M190.1 341.8h.8M185.5 353.0h.8M184.6 355.3h.8M186.0 350.1h.8M184.9 347.5h.8M183.1 362.1h.8" stroke="#000" stroke-width="0.8" stroke-opacity="0.5" fill="none" filter="url(#bl)"/>
<path d="M199.3 323.6v45.4M170.9 352.3h45.7" stroke="#333" stroke-width="0.8" fill="none"/>
<rect x="170.9" y="323.6" width="45.7" height="45.4" fill="none" stroke="#3a3a3a" stroke-width="0.9"/>
<text transform="translate(174.1 330.3) scale(0.9 1)" font-size="6.5" text-anchor="start" fill="#111" stroke-width="0.12">53</text>
<ellipse cx="100.3" cy="410.5" rx="2.8" ry="7.0" fill="url(#g)" opacity="0.95"/>
<ellipse cx="100.3" cy="400.0" rx="1.5" ry="9.0" fill="url(#g)" opacity="0.3"/>
<path d="M100.2 413.0h.8M100.2 413.1h.8M99.7 409.1h.8M100.0 412.5h.8M100.0 412.7h.8M100.2 412.8h.8M98.8 410.4h.8M98.7 409.4h.8M99.7 413.6h.8M99.9 414.8h.8M99.7 409.9h.8M101.0 411.5h.8M100.2 413.5h.8M101.0 414.7h.8M100.5 415.4h.8M98.1 410.6h.8M100.7 414.0h.8M101.7 407.2h.8M100.4 404.4h.8M100.2 409.3h.8M99.1 411.5h.8M100.5 406.3h.8M99.2 410.1h.8M98.5 411.0h.8M100.5 410.5h.8M101.1 411.3h.8M100.0 413.6h.8M100.1 409.8h.8M99.6 409.2h.8M101.9 412.0h.8M100.7 413.5h.8M99.9 409.3h.8M100.0 414.3h.8M100.4 412.6h.8M101.4 409.5h.8M99.7 410.4h.8M99.4 408.3h.8M100.6 412.4h.8M100.1 410.8h.8M98.8 416.0h.8M100.1 403.4h.8M100.0 407.1h.8M99.9 409.1h.8M100.4 412.0h.8M100.5 409.5h.8M101.9 408.5h.8M100.9 411.7h.8M101.1 409.3h.8M99.8 411.2h.8M100.3 413.0h.8M99.6 413.2h.8M99.6 406.2h.8M101.1 408.5h.8M102.4 411.7h.8M101.0 410.0h.8M100.7 408.4h.8M100.8 412.2h.8M101.1 410.8h.8M100.2 411.8h.8M100.2 413.0h.8M100.9 409.5h.8M101.9 413.3h.8M100.3 411.0h.8M98.6 411.3h.8M101.0 413.4h.8M100.5 406.1h.8M99.5 406.0h.8M99.4 407.4h.8M97.1 412.9h.8M99.5 410.9h.8M100.1 409.0h.8M100.8 407.7h.8M100.2 405.9h.8M99.3 411.3h.8M99.9 410.5h.8M100.3 411.6h.8M100.9 413.0h.8M100.6 411.3h.8M101.1 414.2h.8M98.4 409.4h.8M100.5 414.6h.8M100.6 411.7h.8M99.3 409.0h.8M100.5 411.0h.8M99.8 416.5h.8M99.1 407.1h.8M99.0 408.9h.8M100.8 409.4h.8M100.9 411.0h.8M101.4 410.7h.8M101.0 415.6h.8M100.8 409.9h.8M99.2 412.3h.8M100.1 409.1h.8M100.0 407.5h.8M102.3 410.1h.8M99.4 409.8h.8M99.0 412.3h.8M99.3 414.1h.8M101.3 409.3h.8M99.7 413.5h.8M101.0 407.7h.8M99.8 415.3h.8M101.3 406.5h.8M98.8 409.1h.8M99.8 411.2h.8M100.9 409.5h.8M100.1 407.4h.8M99.4 412.4h.8M101.7 407.7h.8M98.9 413.1h.8M99.4 406.5h.8M101.4 413.3h.8M102.0 412.7h.8M100.3 411.9h.8M99.0 413.3h.8M99.0 409.9h.8M99.4 410.3h.8M100.2 413.6h.8M101.6 407.6h.8M100.1 395.7h.8M100.1 400.3h.8M100.1 409.0h.8M100.1 410.4h.8M98.4 405.5h.8M100.3 400.8h.8M100.5 403.3h.8M101.2 407.3h.8M100.9 395.0h.8M99.8 406.2h.8M100.1 396.2h.8M99.5 402.5h.8M100.0 405.3h.8M99.8 402.7h.8M101.1 401.6h.8M100.6 408.6h.8M100.7 398.7h.8M100.0 399.0h.8M100.1 395.7h.8M100.7 402.2h.8M99.7 405.5h.8M100.7 400.4h.8M100.9 390.0h.8M99.8 403.6h.8M100.3 404.8h.8M99.6 396.1h.8M101.6 399.7h.8M100.6 401.3h.8M101.1 396.6h.8M100.1 402.6h.8M98.0 411.3h.8M95.0 407.8h.8M91.1 412.6h.8M95.6 407.6h.8M101.3 413.8h.8M100.8 411.6h.8M97.0 404.7h.8M95.2 406.0h.8M101.4 410.7h.8M99.5 409.8h.8M100.9 415.8h.8M102.3 407.5h.8M98.9 409.4h.8M98.0 410.0h.8M96.0 410.7h.8M98.2 415.0h.8M95.4 409.8h.8M100.4 405.4h.8M97.3 414.6h.8M101.7 411.3h.8M97.0 405.7h.8" stroke="#000" stroke-width="0.8" stroke-opacity="0.5" fill="none" filter="url(#bl)"/>
<path d="M97.4 374.9v45.4M68.5 403.8h45.7" stroke="#333" stroke-width="0.8" fill="none"/>
<rect x="68.5" y="374.9" width="45.7" height="45.4" fill="none" stroke="#3a3a3a" stroke-width="0.9"/>
<text transform="translate(111.6 381.8) scale(0.9 1)" font-size="6.5" text-anchor="end" fill="#111" stroke-width="0.12">9</text>
<ellipse cx="145.7" cy="412.0" rx="4.8" ry="8.0" fill="url(#g)" opacity="0.95"/>
<ellipse cx="145.7" cy="398.0" rx="3.0" ry="9.0" fill="url(#g)" opacity="0.3"/>
<path d="M144.4 413.0h.8M145.1 413.3h.8M146.0 419.3h.8M147.3 417.7h.8M145.2 412.0h.8M144.7 407.8h.8M143.8 412.4h.8M145.4 414.1h.8M145.9 406.1h.8M146.6 412.1h.8M141.5 416.7h.8M144.0 410.5h.8M146.6 406.4h.8M149.0 414.8h.8M147.5 417.9h.8M141.3 411.4h.8M141.9 412.7h.8M146.8 416.3h.8M145.8 414.1h.8M145.8 409.7h.8M149.6 410.9h.8M143.6 411.9h.8M148.1 412.2h.8M145.9 416.3h.8M144.6 408.5h.8M141.6 413.6h.8M143.4 411.6h.8M148.7 404.8h.8M145.9 414.8h.8M147.3 412.7h.8M146.8 407.6h.8M145.4 405.8h.8M147.4 415.5h.8M146.3 418.2h.8M145.3 412.5h.8M145.1 411.4h.8M144.3 414.8h.8M146.3 409.8h.8M145.3 410.3h.8M147.9 415.6h.8M145.1 408.1h.8M143.9 416.3h.8M142.1 413.2h.8M147.2 416.8h.8M150.6 405.5h.8M145.6 416.8h.8M141.4 411.8h.8M147.5 414.4h.8M144.4 409.2h.8M147.1 408.5h.8M146.4 416.3h.8M147.1 413.9h.8M145.9 414.1h.8M145.2 414.6h.8M147.8 414.4h.8M145.1 406.5h.8M148.0 411.1h.8M144.5 410.9h.8M146.0 419.3h.8M144.2 417.0h.8M147.5 409.0h.8M144.4 406.8h.8M144.1 414.8h.8M147.6 414.3h.8M146.4 417.1h.8M145.5 408.1h.8M143.8 418.2h.8M145.6 412.9h.8M146.5 416.8h.8M147.0 413.2h.8M144.3 410.7h.8M146.7 409.4h.8M142.0 417.1h.8M145.8 400.7h.8M143.9 416.1h.8M147.1 414.7h.8M144.9 409.7h.8M150.2 415.0h.8M146.0 411.8h.8M146.3 407.5h.8M141.3 411.2h.8M143.0 414.3h.8M147.7 412.3h.8M144.4 409.4h.8M147.9 414.6h.8M144.3 414.8h.8M146.9 416.6h.8M144.1 412.9h.8M146.5 417.6h.8M147.0 409.6h.8M147.4 410.6h.8M144.2 407.0h.8M143.1 411.9h.8M146.8 412.3h.8M146.1 412.0h.8M147.0 407.5h.8M143.3 415.7h.8M147.1 406.0h.8M145.3 408.7h.8M143.6 401.4h.8M144.8 415.8h.8M147.5 414.9h.8M146.0 411.3h.8M146.0 413.2h.8M145.8 407.5h.8M144.9 408.1h.8M148.1 408.5h.8M145.7 413.2h.8M142.9 410.6h.8M142.9 412.6h.8M144.6 408.1h.8M144.9 407.1h.8M147.1 413.5h.8M140.6 413.0h.8M147.2 413.6h.8M148.0 409.7h.8M144.8 413.0h.8M148.1 406.4h.8M144.4 408.0h.8M145.4 413.2h.8M144.7 408.6h.8M148.8 407.6h.8M148.0 408.6h.8M147.9 418.0h.8M143.5 410.5h.8M145.9 413.1h.8M143.5 411.4h.8M146.0 419.3h.8M146.8 411.7h.8M148.4 415.9h.8M145.4 415.5h.8M146.2 413.6h.8M145.4 412.1h.8M143.6 406.6h.8M149.0 414.2h.8M146.5 419.3h.8M148.6 414.1h.8M147.4 419.3h.8M143.2 414.8h.8M144.5 415.5h.8M147.1 410.5h.8M147.4 411.7h.8M147.1 413.9h.8M145.7 416.3h.8M147.4 408.5h.8M143.8 407.0h.8M145.2 411.8h.8M143.4 411.8h.8M147.7 413.9h.8M146.5 418.4h.8M147.1 410.2h.8M145.2 418.9h.8M140.7 414.2h.8M144.1 412.3h.8M146.0 406.1h.8M145.8 417.6h.8M147.5 418.6h.8M147.9 413.9h.8M144.6 414.0h.8M147.3 410.6h.8M142.3 405.2h.8M147.0 409.3h.8M141.5 406.9h.8M146.7 407.2h.8M141.2 409.1h.8M146.7 410.0h.8M148.9 414.0h.8M145.4 416.8h.8M147.1 411.3h.8M147.9 415.0h.8M140.3 410.8h.8M141.8 411.0h.8M145.7 413.3h.8M143.5 409.8h.8M144.9 412.9h.8M151.2 410.3h.8M149.4 408.9h.8M147.0 409.6h.8M144.4 417.5h.8M146.8 412.9h.8M146.4 410.4h.8M145.4 412.6h.8M149.1 409.3h.8M141.9 410.3h.8M148.9 410.7h.8M144.9 406.0h.8M148.4 411.4h.8M145.5 413.5h.8M144.6 412.9h.8M144.4 411.4h.8M147.5 399.9h.8M144.3 390.1h.8M147.6 409.2h.8M147.4 395.8h.8M146.0 403.5h.8M148.3 394.0h.8M144.3 394.6h.8M146.1 400.7h.8M145.4 383.0h.8M144.4 392.9h.8M145.1 396.3h.8M146.4 396.4h.8M146.4 389.0h.8M146.8 405.4h.8M144.5 397.5h.8M145.5 397.7h.8M145.5 387.3h.8M144.6 398.1h.8M145.7 402.5h.8M142.0 403.7h.8M143.7 402.2h.8M144.8 398.1h.8M145.0 397.2h.8M146.8 399.6h.8M144.7 402.5h.8M148.6 397.2h.8M143.2 397.2h.8M148.8 400.8h.8M144.0 397.0h.8M143.7 400.1h.8M144.4 399.3h.8M144.6 393.0h.8M145.2 407.5h.8M144.9 402.5h.8M146.4 393.1h.8M147.0 392.8h.8M143.8 395.6h.8M147.8 394.9h.8M146.1 392.6h.8M145.7 399.7h.8M147.1 396.5h.8M145.5 392.8h.8M148.1 407.5h.8M143.6 396.3h.8M147.7 400.3h.8M144.9 390.4h.8M146.9 391.8h.8M144.9 392.3h.8M148.5 403.9h.8M146.3 402.6h.8M147.0 396.9h.8M143.9 396.5h.8M143.1 400.2h.8M146.1 393.2h.8M148.3 396.9h.8M148.7 414.6h.8M142.1 407.9h.8M147.6 413.8h.8M144.9 416.5h.8M145.9 404.7h.8M144.7 405.9h.8M148.3 416.7h.8M148.4 413.8h.8M147.2 416.1h.8M139.5 416.7h.8M145.7 408.4h.8M149.5 418.1h.8M141.7 415.5h.8M139.8 414.0h.8M144.5 411.1h.8M148.1 408.2h.8M140.7 406.5h.8M146.4 403.7h.8M144.2 406.2h.8M145.1 406.5h.8M146.7 410.5h.8M144.6 406.8h.8M143.2 402.3h.8M145.9 410.4h.8M150.7 401.1h.8M147.4 408.2h.8M147.7 412.6h.8M142.0 403.2h.8M143.4 404.6h.8M140.6 409.4h.8M148.6 415.3h.8M148.9 409.1h.8M146.8 407.8h.8M148.1 410.8h.8M143.8 402.3h.8M144.0 403.3h.8" stroke="#000" stroke-width="0.8" stroke-opacity="0.5" fill="none" filter="url(#bl)"/>
<path d="M148.3 374.9v45.4M119.5 403.8h45.7" stroke="#333" stroke-width="0.8" fill="none"/>
<rect x="119.5" y="374.9" width="45.7" height="45.4" fill="none" stroke="#3a3a3a" stroke-width="0.9"/>
<text transform="translate(126.5 381.6) scale(0.9 1)" font-size="6.5" text-anchor="start" fill="#111" stroke-width="0.12">18</text>
<ellipse cx="187.1" cy="395.0" rx="4.8" ry="7.5" fill="url(#g)" opacity="0.9"/>
<ellipse cx="187.1" cy="412.0" rx="4.8" ry="6.8" fill="url(#g)" opacity="0.92"/>
<path d="M188.4 391.5h.8M188.6 398.7h.8M188.2 398.6h.8M187.2 391.6h.8M187.9 395.7h.8M183.3 399.0h.8M184.7 399.1h.8M186.1 391.9h.8M189.0 394.3h.8M187.3 394.7h.8M187.0 391.4h.8M184.6 400.4h.8M187.2 389.3h.8M187.7 396.2h.8M188.2 398.1h.8M186.7 396.3h.8M191.2 397.3h.8M184.5 387.7h.8M188.8 395.1h.8M184.3 395.9h.8M184.3 395.8h.8M188.5 390.7h.8M186.2 394.2h.8M185.4 392.3h.8M187.1 399.4h.8M192.3 392.8h.8M185.7 394.5h.8M186.3 394.4h.8M189.6 394.3h.8M185.9 400.3h.8M192.1 399.6h.8M184.4 396.2h.8M186.6 393.9h.8M189.1 393.5h.8M186.6 389.0h.8M186.0 395.2h.8M184.1 396.0h.8M186.8 394.4h.8M188.8 392.0h.8M186.5 398.7h.8M185.0 397.4h.8M189.8 395.5h.8M188.8 400.0h.8M188.2 395.8h.8M186.6 400.8h.8M185.2 394.4h.8M189.4 395.5h.8M187.2 393.1h.8M186.2 397.9h.8M186.6 393.5h.8M187.8 396.3h.8M188.8 395.4h.8M187.0 392.6h.8M186.2 402.0h.8M184.6 398.5h.8M186.4 394.3h.8M186.6 397.7h.8M187.7 396.1h.8M187.0 393.6h.8M185.9 400.9h.8M186.8 397.7h.8M188.3 397.0h.8M186.8 396.7h.8M186.6 397.2h.8M186.5 397.5h.8M186.3 395.9h.8M187.7 395.7h.8M188.3 395.5h.8M186.4 390.3h.8M186.6 394.5h.8M187.8 399.0h.8M188.6 400.0h.8M189.9 395.7h.8M184.2 392.6h.8M188.8 398.3h.8M186.0 392.5h.8M188.3 391.8h.8M188.9 390.6h.8M190.8 388.6h.8M186.0 401.1h.8M189.1 395.2h.8M182.0 386.0h.8M187.1 392.5h.8M182.4 389.6h.8M185.5 397.8h.8M184.7 393.0h.8M184.0 392.6h.8M187.0 397.0h.8M184.7 400.1h.8M184.6 392.5h.8M185.3 394.8h.8M185.9 391.9h.8M188.1 397.9h.8M186.1 395.7h.8M185.1 395.3h.8M183.5 392.4h.8M188.2 399.7h.8M187.6 394.0h.8M188.3 398.7h.8M185.6 398.8h.8M189.5 391.3h.8M188.1 394.3h.8M191.7 395.7h.8M186.2 391.5h.8M188.7 394.6h.8M190.4 396.0h.8M186.5 389.7h.8M186.9 394.0h.8M186.0 396.0h.8M186.4 393.5h.8M188.7 393.1h.8M187.4 390.5h.8M184.8 395.0h.8M192.1 395.6h.8M185.5 394.6h.8M189.4 399.3h.8M187.1 395.0h.8M188.4 393.6h.8M188.2 400.5h.8M188.7 397.2h.8M188.7 398.4h.8M190.6 399.1h.8M185.6 393.3h.8M184.3 391.9h.8M183.6 400.2h.8M182.8 388.9h.8M188.1 393.3h.8M183.4 400.1h.8M183.7 392.9h.8M187.5 397.4h.8M186.4 392.4h.8M187.2 402.5h.8M181.4 394.7h.8M184.3 397.6h.8M183.8 390.8h.8M186.9 397.3h.8M186.9 397.2h.8M187.8 393.5h.8M189.5 397.2h.8M194.2 394.3h.8M185.9 396.3h.8M188.4 393.4h.8M188.9 393.6h.8M186.8 391.1h.8M184.9 396.4h.8M188.8 394.4h.8M188.9 392.8h.8M188.2 400.3h.8M185.5 395.1h.8M182.4 394.6h.8M185.6 414.1h.8M189.1 419.3h.8M187.4 416.8h.8M185.4 409.0h.8M186.6 414.3h.8M188.3 411.7h.8M187.3 411.7h.8M189.6 411.2h.8M189.3 409.6h.8M191.7 407.5h.8M185.8 413.3h.8M187.0 409.0h.8M186.6 410.4h.8M186.6 410.9h.8M187.3 412.3h.8M186.4 410.7h.8M189.0 411.6h.8M184.6 410.8h.8M187.2 412.8h.8M188.4 413.1h.8M189.2 416.4h.8M187.1 413.7h.8M187.8 410.3h.8M187.3 413.7h.8M188.2 414.8h.8M186.8 410.4h.8M188.6 410.4h.8M190.0 405.4h.8M191.5 416.5h.8M186.5 412.5h.8M188.9 416.1h.8M187.7 407.5h.8M188.0 405.1h.8M186.2 413.0h.8M187.4 409.6h.8M188.3 412.6h.8M187.2 409.8h.8M186.3 414.5h.8M189.7 411.1h.8M187.4 411.6h.8M186.7 413.5h.8M187.2 410.8h.8M186.7 410.9h.8M185.6 415.8h.8M188.2 411.8h.8M186.7 412.8h.8M184.6 413.6h.8M189.3 412.4h.8M186.4 413.6h.8M184.2 417.8h.8M187.0 415.3h.8M185.7 407.9h.8M187.5 405.6h.8M184.7 409.5h.8M186.3 405.1h.8M183.7 404.1h.8M184.2 409.0h.8M187.3 409.2h.8M185.9 412.6h.8M190.2 413.4h.8M185.6 418.5h.8M187.4 410.0h.8M184.4 410.3h.8M190.2 412.7h.8M187.2 415.3h.8M183.9 411.3h.8M187.6 409.4h.8M186.1 404.1h.8M191.5 414.6h.8M189.3 411.4h.8M185.5 416.7h.8M188.6 417.5h.8M188.1 417.7h.8M186.4 413.4h.8M186.4 414.7h.8M186.6 408.1h.8M185.1 413.3h.8M187.7 411.0h.8M186.1 415.1h.8M186.9 410.5h.8M186.4 411.4h.8M185.6 409.6h.8M191.1 417.5h.8M187.7 412.4h.8M188.5 409.1h.8M192.7 410.9h.8M187.0 408.2h.8M185.6 415.6h.8M183.6 415.7h.8M184.2 412.5h.8M188.4 412.9h.8M184.2 407.7h.8M182.9 416.7h.8M187.2 411.9h.8M186.9 418.1h.8M190.6 410.3h.8M184.1 413.4h.8M189.2 414.6h.8M182.3 414.4h.8M189.8 411.7h.8M187.7 415.3h.8M185.1 413.2h.8M189.7 412.1h.8M187.5 409.0h.8M188.3 415.8h.8M187.2 412.1h.8M189.5 413.5h.8M188.5 411.8h.8M185.1 413.1h.8M185.3 410.9h.8M185.4 419.3h.8M188.7 417.4h.8M188.4 414.0h.8M187.7 412.9h.8M186.6 414.0h.8M185.9 409.5h.8M187.8 413.8h.8M188.8 411.8h.8M188.7 410.8h.8M190.5 410.0h.8M190.7 410.0h.8M186.4 413.5h.8M192.4 412.1h.8M190.3 409.7h.8M187.8 413.3h.8M187.9 412.4h.8M188.3 411.7h.8M186.1 416.3h.8M185.7 411.3h.8M187.2 408.1h.8M186.4 412.5h.8M181.2 409.1h.8M188.4 414.5h.8M183.2 413.7h.8M187.8 411.1h.8M186.4 413.5h.8M185.8 410.8h.8M188.7 410.7h.8M185.4 406.8h.8M185.1 405.9h.8M187.7 410.8h.8M187.6 417.2h.8M185.7 408.5h.8M185.5 411.8h.8M185.6 410.1h.8M187.8 413.5h.8M188.0 409.6h.8M188.8 411.7h.8M186.9 413.2h.8M185.2 410.5h.8M186.7 398.5h.8M186.6 400.7h.8M188.4 402.0h.8M188.6 407.9h.8M188.9 402.6h.8M188.2 410.6h.8M184.6 398.8h.8M186.1 402.9h.8M188.4 412.5h.8M187.2 392.6h.8M189.2 393.6h.8M184.0 408.0h.8M184.9 408.4h.8M185.0 410.1h.8M187.8 409.1h.8M185.5 410.5h.8M184.9 399.2h.8M187.9 403.1h.8M186.1 407.0h.8M184.4 394.0h.8M188.1 393.6h.8M186.8 398.6h.8M188.3 410.1h.8M188.5 408.5h.8" stroke="#000" stroke-width="0.8" stroke-opacity="0.5" fill="none" filter="url(#bl)"/>
<path d="M199.3 374.9v45.4M170.9 403.8h45.7" stroke="#333" stroke-width="0.8" fill="none"/>
<rect x="170.9" y="374.9" width="45.7" height="45.4" fill="none" stroke="#3a3a3a" stroke-width="0.9"/>
<text transform="translate(174.1 381.6) scale(0.9 1)" font-size="6.5" text-anchor="start" fill="#111" stroke-width="0.12">52</text>
<ellipse cx="100.3" cy="462.0" rx="2.6" ry="8.5" fill="url(#g)" opacity="0.95"/>
<ellipse cx="100.3" cy="451.0" rx="1.6" ry="9.0" fill="url(#g)" opacity="0.35"/>
<path d="M99.2 458.1h.8M99.8 458.7h.8M99.8 459.8h.8M100.3 461.7h.8M100.5 457.9h.8M100.3 456.6h.8M99.5 463.4h.8M101.2 462.8h.8M101.2 463.5h.8M99.4 464.5h.8M100.1 462.2h.8M101.2 467.9h.8M100.6 461.3h.8M100.7 461.8h.8M99.9 466.3h.8M101.5 463.3h.8M99.4 461.5h.8M101.1 461.9h.8M101.8 458.1h.8M99.6 464.2h.8M101.4 461.3h.8M101.0 463.4h.8M99.7 466.4h.8M100.4 464.5h.8M101.5 462.9h.8M99.9 463.3h.8M99.9 462.4h.8M97.8 467.6h.8M98.9 455.7h.8M100.0 460.5h.8M100.2 459.3h.8M100.8 463.4h.8M101.0 461.4h.8M102.0 462.3h.8M100.9 468.4h.8M102.8 462.9h.8M101.0 464.8h.8M101.5 460.7h.8M99.6 459.8h.8M100.7 458.7h.8M101.1 466.7h.8M101.1 458.4h.8M99.9 460.5h.8M100.3 469.6h.8M99.2 463.3h.8M100.6 462.2h.8M99.4 461.3h.8M101.1 458.2h.8M100.5 463.3h.8M100.9 465.4h.8M100.8 459.1h.8M100.7 460.4h.8M101.0 467.5h.8M100.4 460.8h.8M98.9 464.5h.8M101.4 469.6h.8M99.7 459.2h.8M101.1 461.8h.8M100.8 459.0h.8M100.6 454.7h.8M100.4 466.4h.8M100.5 464.0h.8M100.5 461.1h.8M100.3 463.5h.8M100.2 460.1h.8M100.6 457.3h.8M100.8 459.9h.8M99.9 459.5h.8M100.5 458.7h.8M99.2 465.5h.8M99.6 459.2h.8M98.8 458.4h.8M100.1 462.6h.8M100.6 463.5h.8M100.9 467.5h.8M99.1 462.9h.8M101.0 457.4h.8M99.4 459.0h.8M100.0 465.1h.8M99.9 459.8h.8M101.6 463.6h.8M100.5 468.2h.8M102.1 457.1h.8M101.1 457.0h.8M100.1 461.3h.8M100.6 461.9h.8M101.5 464.9h.8M99.6 456.6h.8M99.9 464.0h.8M100.3 461.2h.8M100.0 456.3h.8M100.1 461.1h.8M101.8 463.6h.8M100.4 467.9h.8M100.0 459.9h.8M100.0 464.3h.8M99.2 457.5h.8M101.0 465.5h.8M99.8 462.3h.8M103.4 467.2h.8M100.7 457.5h.8M99.8 458.2h.8M99.3 456.3h.8M99.9 467.9h.8M100.7 460.4h.8M99.8 455.9h.8M100.8 459.5h.8M100.9 464.8h.8M100.8 464.1h.8M100.7 463.4h.8M100.3 457.5h.8M99.7 461.4h.8M99.3 455.3h.8M98.9 456.9h.8M99.9 463.9h.8M100.9 464.9h.8M100.3 461.2h.8M99.4 455.9h.8M101.1 458.7h.8M99.5 460.7h.8M101.5 464.9h.8M99.8 454.9h.8M99.2 440.4h.8M99.4 457.0h.8M99.6 447.2h.8M99.9 450.7h.8M100.1 452.0h.8M101.8 457.2h.8M99.8 451.8h.8M98.6 453.6h.8M101.1 451.2h.8M99.7 465.5h.8M99.7 451.8h.8M99.8 446.8h.8M100.5 444.4h.8M100.4 452.1h.8M100.6 449.4h.8M100.0 453.1h.8M100.3 454.6h.8M99.4 445.3h.8M99.5 452.4h.8M99.8 447.8h.8M99.9 448.0h.8M99.0 446.5h.8M99.3 450.6h.8M101.2 447.9h.8M101.2 447.9h.8M101.5 449.9h.8M101.2 444.5h.8M101.0 459.7h.8M101.6 455.7h.8M100.8 449.8h.8M100.0 453.7h.8M100.1 446.6h.8M100.5 452.6h.8M100.6 443.2h.8M100.2 451.6h.8M100.0 452.7h.8M100.3 449.9h.8M99.7 456.2h.8M95.3 470.2h.8M97.6 462.1h.8M98.6 463.2h.8M98.6 472.3h.8M97.2 462.0h.8M101.3 458.1h.8M99.2 458.9h.8M98.9 462.5h.8M95.5 464.6h.8M97.5 459.1h.8M96.0 455.3h.8M102.3 463.9h.8M98.2 461.3h.8M95.5 460.3h.8M99.4 459.1h.8M100.0 465.7h.8M95.9 461.4h.8M97.7 457.7h.8" stroke="#000" stroke-width="0.8" stroke-opacity="0.5" fill="none" filter="url(#bl)"/>
<path d="M97.4 428.0v45.4M68.5 456.7h45.7" stroke="#333" stroke-width="0.8" fill="none"/>
<rect x="68.5" y="428.0" width="45.7" height="45.4" fill="none" stroke="#3a3a3a" stroke-width="0.9"/>
<text transform="translate(111.6 434.9) scale(0.9 1)" font-size="6.5" text-anchor="end" fill="#111" stroke-width="0.12">16</text>
<ellipse cx="145.7" cy="462.0" rx="4.6" ry="9.5" fill="url(#g)" opacity="0.9"/>
<ellipse cx="145.7" cy="450.0" rx="3.2" ry="10.0" fill="url(#g)" opacity="0.4"/>
<path d="M143.9 462.6h.8M144.9 464.7h.8M143.0 464.1h.8M144.7 462.0h.8M147.8 456.9h.8M147.2 458.3h.8M147.5 462.0h.8M147.5 460.8h.8M146.0 460.7h.8M146.4 459.8h.8M142.5 454.8h.8M147.1 464.5h.8M146.8 457.6h.8M146.1 468.5h.8M146.1 472.4h.8M143.7 465.3h.8M144.8 463.9h.8M142.8 459.4h.8M144.8 458.0h.8M145.2 460.3h.8M144.5 466.2h.8M147.8 462.2h.8M144.2 455.3h.8M146.3 465.3h.8M146.1 459.9h.8M145.4 465.4h.8M146.7 462.0h.8M146.4 458.8h.8M145.0 460.1h.8M148.1 465.0h.8M145.4 459.7h.8M146.8 467.5h.8M143.8 458.8h.8M144.0 467.9h.8M146.0 456.5h.8M149.9 457.5h.8M143.4 464.5h.8M143.5 468.2h.8M144.3 460.8h.8M144.9 465.3h.8M145.8 458.2h.8M147.6 457.8h.8M145.4 462.1h.8M146.8 470.8h.8M145.7 460.9h.8M144.7 455.4h.8M144.8 451.8h.8M146.6 461.6h.8M146.0 464.5h.8M148.1 460.4h.8M146.1 462.6h.8M145.5 458.7h.8M143.6 467.1h.8M144.3 464.0h.8M146.4 456.1h.8M146.3 459.3h.8M148.8 466.9h.8M144.6 461.7h.8M146.9 452.1h.8M145.6 460.2h.8M141.9 459.7h.8M143.6 450.6h.8M146.2 463.7h.8M145.1 467.5h.8M144.5 459.5h.8M147.8 458.1h.8M145.3 460.8h.8M146.3 459.8h.8M147.1 461.4h.8M144.9 463.8h.8M146.9 455.1h.8M143.9 460.3h.8M143.4 469.5h.8M147.8 461.1h.8M148.1 462.1h.8M147.1 463.0h.8M144.4 458.2h.8M145.1 455.8h.8M144.0 471.1h.8M144.0 461.7h.8M146.0 457.4h.8M144.9 465.3h.8M147.9 459.9h.8M142.9 457.7h.8M144.8 459.5h.8M143.5 456.0h.8M143.3 457.4h.8M149.2 465.3h.8M148.6 462.1h.8M146.5 460.5h.8M146.7 467.0h.8M146.8 464.5h.8M145.8 459.9h.8M140.0 455.5h.8M141.6 459.3h.8M146.8 466.9h.8M141.0 457.7h.8M148.3 470.6h.8M147.2 460.7h.8M146.3 455.9h.8M146.4 459.7h.8M147.0 467.6h.8M144.6 459.0h.8M149.1 463.5h.8M145.2 464.7h.8M144.0 459.3h.8M149.1 466.0h.8M145.9 467.5h.8M146.3 464.9h.8M147.9 454.3h.8M149.7 462.9h.8M145.6 464.7h.8M145.9 465.3h.8M143.1 469.2h.8M145.7 462.9h.8M148.8 461.9h.8M144.3 453.1h.8M144.0 456.8h.8M142.5 466.4h.8M143.3 456.9h.8M143.2 460.7h.8M145.7 454.6h.8M146.2 460.4h.8M141.9 456.6h.8M146.5 463.6h.8M148.1 461.3h.8M147.3 463.1h.8M144.3 455.2h.8M147.2 460.8h.8M144.7 465.2h.8M143.6 448.4h.8M143.1 459.0h.8M142.9 461.2h.8M145.1 465.0h.8M146.8 464.1h.8M142.3 464.2h.8M141.9 463.0h.8M147.9 464.9h.8M143.9 460.9h.8M149.8 461.1h.8M146.4 456.7h.8M143.0 460.7h.8M147.4 460.6h.8M147.6 468.1h.8M142.5 457.0h.8M145.2 462.7h.8M148.2 460.4h.8M142.8 461.9h.8M146.5 466.2h.8M146.3 461.4h.8M149.3 457.8h.8M148.1 462.1h.8M144.9 465.7h.8M143.0 463.0h.8M145.0 464.6h.8M145.8 456.0h.8M145.6 465.6h.8M144.9 459.7h.8M143.9 456.7h.8M148.0 463.1h.8M145.0 455.8h.8M144.3 462.9h.8M146.1 468.4h.8M145.9 459.5h.8M145.6 458.1h.8M147.9 466.4h.8M143.8 464.5h.8M146.2 465.4h.8M147.6 453.8h.8M144.8 458.3h.8M148.8 447.8h.8M144.2 458.5h.8M144.8 448.7h.8M145.8 444.2h.8M146.0 448.9h.8M145.3 447.4h.8M141.2 449.7h.8M146.5 443.5h.8M143.6 450.0h.8M147.2 438.7h.8M147.7 451.8h.8M143.8 450.1h.8M145.8 449.9h.8M148.4 445.7h.8M148.5 450.6h.8M147.3 452.2h.8M144.8 439.6h.8M146.3 457.3h.8M144.0 449.9h.8M148.2 454.1h.8M146.3 460.9h.8M148.0 442.9h.8M141.4 444.5h.8M144.7 444.7h.8M144.8 451.2h.8M145.0 444.4h.8M143.5 445.3h.8M146.4 462.3h.8M144.2 449.4h.8M148.8 453.7h.8M145.0 457.6h.8M144.8 460.5h.8M144.4 441.7h.8M146.6 453.6h.8M146.2 456.0h.8M144.0 458.3h.8M140.5 446.7h.8M145.0 448.3h.8M144.2 452.3h.8M145.6 451.4h.8M144.1 449.0h.8M146.1 447.1h.8M143.7 450.3h.8M146.1 449.2h.8M145.2 452.7h.8M147.3 447.0h.8M145.4 444.4h.8M146.7 448.1h.8M145.1 449.7h.8M145.3 458.0h.8M144.5 448.5h.8M143.4 437.4h.8M146.0 465.4h.8M145.6 459.0h.8M148.3 454.9h.8M146.4 454.2h.8M148.8 451.4h.8M148.9 462.5h.8M146.1 443.2h.8M143.9 456.0h.8M145.3 456.1h.8M147.4 466.7h.8M145.6 450.6h.8M147.5 461.2h.8M145.1 454.0h.8M145.8 444.7h.8M147.3 443.9h.8M146.8 459.0h.8M146.3 443.4h.8M146.1 449.3h.8M146.7 462.2h.8M145.6 445.0h.8M147.4 454.9h.8M144.7 464.0h.8M150.8 461.3h.8M146.1 456.4h.8M144.3 446.4h.8M143.0 463.2h.8M144.2 454.5h.8M146.4 451.6h.8M141.5 454.7h.8M137.2 463.1h.8M147.4 467.9h.8M144.0 460.3h.8M139.0 463.5h.8M149.4 462.0h.8M146.8 463.2h.8M143.4 453.6h.8M144.2 466.5h.8M148.1 462.0h.8M147.9 470.2h.8M142.2 464.2h.8M149.5 454.1h.8M145.1 466.3h.8M141.8 467.5h.8M145.3 465.6h.8M146.0 457.6h.8M150.5 456.9h.8M148.6 467.4h.8M136.9 454.7h.8M141.0 464.6h.8M149.0 460.1h.8M147.0 455.4h.8M142.0 457.1h.8M143.8 456.2h.8M152.3 462.4h.8M136.4 455.4h.8M150.8 458.9h.8M150.1 457.9h.8M143.5 461.7h.8M144.8 465.4h.8M147.3 450.5h.8M146.2 461.8h.8M147.5 455.2h.8M150.6 458.1h.8M143.3 458.5h.8M145.8 468.7h.8M147.7 468.4h.8M144.1 457.9h.8M145.7 457.9h.8M151.6 467.9h.8M137.7 462.4h.8M147.0 470.5h.8M143.7 455.2h.8M141.3 466.2h.8M144.9 456.4h.8M147.3 442.0h.8M149.1 463.9h.8" stroke="#000" stroke-width="0.8" stroke-opacity="0.5" fill="none" filter="url(#bl)"/>
<path d="M148.3 428.0v45.4M119.5 456.7h45.7" stroke="#333" stroke-width="0.8" fill="none"/>
<rect x="119.5" y="428.0" width="45.7" height="45.4" fill="none" stroke="#3a3a3a" stroke-width="0.9"/>
<text transform="translate(126.5 434.7) scale(0.9 1)" font-size="6.5" text-anchor="start" fill="#111" stroke-width="0.12">28</text>
<ellipse cx="187.1" cy="447.0" rx="5.0" ry="7.5" fill="url(#g)" opacity="0.9"/>
<ellipse cx="187.1" cy="463.0" rx="4.6" ry="7.0" fill="url(#g)" opacity="0.8"/>
<path d="M185.1 445.7h.8M188.8 444.4h.8M186.6 448.7h.8M190.0 440.6h.8M184.2 447.0h.8M183.8 444.9h.8M190.5 447.1h.8M189.6 447.7h.8M187.4 437.3h.8M183.6 450.7h.8M189.1 449.4h.8M192.6 452.2h.8M186.4 449.6h.8M186.3 450.0h.8M185.4 448.8h.8M188.2 452.2h.8M187.0 442.7h.8M183.8 446.7h.8M185.6 444.1h.8M189.3 449.9h.8M184.7 447.9h.8M187.7 452.3h.8M189.4 447.5h.8M188.8 446.5h.8M183.2 446.5h.8M188.4 444.6h.8M184.7 440.5h.8M182.7 447.0h.8M187.8 445.7h.8M183.5 445.6h.8M186.6 443.3h.8M189.8 447.4h.8M188.3 443.7h.8M186.8 447.9h.8M189.2 446.3h.8M187.2 446.0h.8M188.9 441.9h.8M189.6 448.1h.8M184.9 449.9h.8M190.7 446.6h.8M186.8 445.1h.8M187.2 449.0h.8M187.5 449.6h.8M186.5 445.6h.8M186.1 455.9h.8M188.3 451.1h.8M185.7 451.9h.8M188.1 448.4h.8M188.7 448.3h.8M185.8 443.8h.8M186.4 446.2h.8M188.2 447.2h.8M187.0 449.3h.8M188.5 445.4h.8M186.9 444.3h.8M186.3 450.8h.8M186.6 447.4h.8M187.8 450.1h.8M189.6 447.4h.8M183.4 445.1h.8M186.0 447.0h.8M186.2 439.0h.8M185.3 450.2h.8M186.0 448.9h.8M189.6 450.9h.8M189.3 446.3h.8M185.7 453.5h.8M183.9 451.0h.8M188.0 441.3h.8M188.1 441.3h.8M184.5 447.9h.8M187.5 442.5h.8M188.0 446.5h.8M188.5 446.5h.8M186.0 446.0h.8M188.2 451.9h.8M186.7 448.9h.8M188.9 449.1h.8M187.6 447.8h.8M188.4 456.7h.8M187.1 451.4h.8M186.5 444.8h.8M187.6 448.9h.8M189.0 444.6h.8M186.3 446.5h.8M187.9 446.7h.8M192.4 442.5h.8M185.7 440.9h.8M184.2 443.1h.8M185.0 448.8h.8M186.4 437.9h.8M187.1 449.0h.8M182.2 440.1h.8M182.7 444.4h.8M188.8 445.3h.8M184.0 449.4h.8M188.6 447.0h.8M189.7 443.4h.8M180.4 445.1h.8M188.3 447.8h.8M187.2 450.5h.8M186.3 447.9h.8M187.9 446.6h.8M186.9 446.1h.8M188.3 452.1h.8M191.1 444.3h.8M187.7 445.5h.8M184.4 448.2h.8M190.1 451.2h.8M189.5 441.4h.8M190.2 450.2h.8M187.9 450.8h.8M189.0 447.8h.8M191.4 440.8h.8M186.9 444.6h.8M185.7 446.5h.8M190.3 447.9h.8M186.4 442.9h.8M189.6 446.2h.8M186.0 449.3h.8M186.1 445.2h.8M187.8 446.0h.8M187.8 445.5h.8M185.5 442.3h.8M190.7 445.8h.8M186.2 446.3h.8M188.7 449.4h.8M185.2 444.4h.8M185.8 442.7h.8M185.9 445.4h.8M187.5 444.1h.8M187.5 448.8h.8M187.6 445.1h.8M187.2 441.8h.8M189.1 449.0h.8M189.1 446.7h.8M186.2 447.6h.8M187.5 448.3h.8M188.1 450.5h.8M188.7 444.0h.8M188.3 449.0h.8M186.4 447.2h.8M186.4 447.2h.8M187.3 446.6h.8M188.2 445.4h.8M184.9 447.7h.8M185.0 447.1h.8M186.3 449.2h.8M187.3 451.9h.8M185.7 443.7h.8M191.2 464.1h.8M189.4 455.2h.8M184.7 457.6h.8M186.8 461.9h.8M187.1 461.5h.8M189.5 461.9h.8M185.1 461.0h.8M190.7 464.9h.8M184.8 466.9h.8M186.3 461.4h.8M185.8 466.4h.8M184.5 464.3h.8M184.7 459.2h.8M185.9 458.7h.8M186.5 463.2h.8M185.8 466.5h.8M185.1 460.1h.8M181.7 456.4h.8M186.5 466.2h.8M191.0 466.7h.8M190.6 462.3h.8M189.5 466.5h.8M186.3 469.6h.8M188.2 460.3h.8M186.0 461.8h.8M186.1 461.9h.8M187.4 466.5h.8M189.2 460.3h.8M186.1 462.1h.8M185.7 467.1h.8M187.0 466.3h.8M184.0 466.5h.8M188.9 460.1h.8M189.2 464.5h.8M189.6 461.2h.8M188.7 466.0h.8M185.9 464.7h.8M186.6 465.4h.8M185.1 462.6h.8M187.7 463.6h.8M191.6 464.3h.8M185.0 462.4h.8M188.5 464.1h.8M190.0 460.0h.8M184.9 459.4h.8M191.5 457.7h.8M185.7 462.7h.8M186.9 465.8h.8M188.0 464.5h.8M189.0 456.8h.8M188.8 464.4h.8M186.6 463.3h.8M185.7 462.6h.8M182.2 463.9h.8M186.0 465.0h.8M189.7 467.5h.8M185.5 467.1h.8M188.4 469.2h.8M188.6 465.0h.8M187.5 461.3h.8M185.9 467.4h.8M186.0 459.3h.8M187.0 465.8h.8M183.4 459.9h.8M190.0 461.3h.8M184.9 467.0h.8M185.8 461.2h.8M185.8 466.5h.8M186.5 465.2h.8M187.9 462.7h.8M189.6 465.5h.8M187.6 465.1h.8M190.4 463.6h.8M186.3 461.2h.8M188.6 465.8h.8M188.8 462.2h.8M187.4 463.0h.8M188.5 464.6h.8M185.0 462.9h.8M189.9 464.0h.8M188.8 464.1h.8M187.5 464.1h.8M186.4 463.6h.8M188.9 467.5h.8M184.8 461.7h.8M188.7 461.8h.8M189.1 459.2h.8M192.4 455.8h.8M186.9 465.3h.8M190.0 464.7h.8M188.4 467.7h.8M183.8 458.6h.8M184.4 460.8h.8M186.0 461.4h.8M189.6 469.3h.8M190.2 466.1h.8M186.6 462.6h.8M188.0 463.1h.8M187.6 464.1h.8M181.9 459.6h.8M189.4 464.2h.8M190.1 459.8h.8M182.4 463.5h.8M185.2 465.3h.8M187.0 464.0h.8M187.0 460.9h.8M189.3 462.2h.8M189.6 465.6h.8M186.0 461.5h.8M188.6 458.9h.8M185.8 462.2h.8M186.5 461.5h.8M187.6 462.5h.8M188.3 463.1h.8M185.8 462.0h.8M191.1 462.0h.8M187.6 465.9h.8M187.1 464.9h.8M188.8 466.1h.8M185.8 463.3h.8M186.1 436.1h.8M188.0 439.5h.8M183.2 455.4h.8M184.1 448.1h.8M189.4 446.1h.8M185.8 462.4h.8M185.3 453.0h.8M184.2 461.7h.8M188.3 461.6h.8M183.9 451.7h.8M190.4 455.6h.8M187.6 445.8h.8M182.4 457.6h.8M185.7 454.4h.8M184.4 466.4h.8M188.5 460.9h.8M188.5 453.3h.8M185.8 449.4h.8M185.4 452.9h.8M188.2 454.5h.8M185.4 460.2h.8M190.6 462.2h.8M185.3 445.5h.8M188.0 446.7h.8M181.8 457.0h.8M188.1 445.5h.8M185.4 453.8h.8M187.8 441.2h.8M190.0 452.0h.8M186.6 451.1h.8" stroke="#000" stroke-width="0.8" stroke-opacity="0.5" fill="none" filter="url(#bl)"/>
<path d="M199.3 428.0v45.4M170.9 456.7h45.7" stroke="#333" stroke-width="0.8" fill="none"/>
<rect x="170.9" y="428.0" width="45.7" height="45.4" fill="none" stroke="#3a3a3a" stroke-width="0.9"/>
<text transform="translate(174.1 434.7) scale(0.9 1)" font-size="6.5" text-anchor="start" fill="#111" stroke-width="0.12">59</text>
<ellipse cx="100.3" cy="515.5" rx="2.8" ry="7.5" fill="url(#g)" opacity="0.98"/>
<ellipse cx="100.3" cy="506.0" rx="1.4" ry="7.0" fill="url(#g)" opacity="0.3"/>
<path d="M99.9 516.0h.8M99.6 513.6h.8M100.7 516.2h.8M101.1 517.7h.8M100.9 516.1h.8M100.0 511.0h.8M99.9 513.9h.8M99.6 516.9h.8M99.5 516.0h.8M100.1 518.3h.8M100.1 514.4h.8M100.0 515.2h.8M100.5 518.0h.8M101.1 515.2h.8M99.6 517.8h.8M100.0 510.1h.8M100.8 512.5h.8M100.4 518.0h.8M99.5 517.7h.8M99.1 517.5h.8M100.9 518.0h.8M99.2 518.0h.8M100.6 512.0h.8M99.3 520.0h.8M101.9 517.8h.8M99.2 511.8h.8M102.0 511.4h.8M101.0 516.5h.8M101.6 513.3h.8M101.5 516.8h.8M100.8 514.4h.8M100.0 510.8h.8M102.6 512.8h.8M99.9 514.1h.8M100.5 515.2h.8M99.0 517.6h.8M100.3 513.3h.8M100.8 516.6h.8M99.6 514.6h.8M100.4 514.9h.8M100.0 508.4h.8M100.0 513.8h.8M100.9 511.0h.8M101.1 517.2h.8M99.6 518.4h.8M98.6 516.5h.8M100.7 521.3h.8M99.2 516.0h.8M99.8 517.7h.8M99.5 514.2h.8M101.3 516.3h.8M102.4 512.2h.8M99.7 514.3h.8M102.4 518.3h.8M100.4 515.2h.8M100.0 514.3h.8M101.4 514.9h.8M102.1 516.7h.8M100.1 519.3h.8M100.0 510.8h.8M102.1 515.2h.8M101.1 514.8h.8M97.6 514.5h.8M100.1 515.2h.8M99.5 516.7h.8M99.7 518.7h.8M100.4 510.1h.8M99.8 511.7h.8M99.9 515.5h.8M102.3 510.9h.8M98.7 516.6h.8M100.4 512.7h.8M100.9 514.8h.8M98.9 511.8h.8M99.2 512.5h.8M99.2 523.2h.8M101.1 514.2h.8M99.2 519.4h.8M100.8 515.0h.8M99.1 517.0h.8M99.0 512.8h.8M100.7 516.6h.8M101.1 513.6h.8M99.0 506.7h.8M99.3 507.3h.8M100.5 514.8h.8M99.3 517.1h.8M99.1 512.8h.8M99.2 512.0h.8M100.5 513.4h.8M97.7 520.0h.8M102.0 509.7h.8M101.8 517.1h.8M101.5 518.5h.8M100.0 511.1h.8M99.6 512.3h.8M100.8 513.9h.8M99.2 513.1h.8M102.4 517.9h.8M99.7 515.3h.8M101.4 513.5h.8M101.0 516.2h.8M99.8 518.7h.8M100.0 514.0h.8M99.4 512.7h.8M100.3 517.9h.8M100.8 520.3h.8M100.3 519.8h.8M99.9 517.6h.8M100.3 514.7h.8M101.5 517.6h.8M101.1 516.9h.8M100.7 517.1h.8M99.6 515.2h.8M99.8 518.4h.8M100.7 517.9h.8M99.9 511.6h.8M99.6 517.4h.8M101.6 512.4h.8M100.4 515.7h.8M100.1 511.4h.8M100.6 523.6h.8M99.9 508.8h.8M100.0 506.9h.8M99.9 499.2h.8M99.9 498.9h.8M99.1 517.5h.8M100.7 507.2h.8M99.8 502.5h.8M100.5 504.5h.8M100.3 501.4h.8M100.6 506.9h.8M100.7 503.7h.8M99.2 509.8h.8M100.2 514.3h.8M100.4 509.4h.8M99.7 507.2h.8M99.8 507.1h.8M100.6 513.8h.8M101.3 500.4h.8M100.7 502.2h.8M100.8 504.2h.8M100.5 501.0h.8M101.8 509.5h.8M100.3 505.1h.8M94.9 516.3h.8M98.7 518.1h.8M97.1 517.5h.8M98.3 514.7h.8M97.3 512.5h.8M96.0 515.2h.8M94.6 513.2h.8M98.4 514.0h.8M95.0 520.1h.8M99.9 517.8h.8M97.9 516.0h.8M97.2 517.1h.8M95.3 517.8h.8M101.4 515.8h.8M96.6 515.0h.8M98.7 515.5h.8M95.7 516.6h.8M100.2 521.2h.8" stroke="#000" stroke-width="0.8" stroke-opacity="0.5" fill="none" filter="url(#bl)"/>
<path d="M97.4 480.4v45.4M68.5 511.8h45.7" stroke="#333" stroke-width="0.8" fill="none"/>
<rect x="68.5" y="480.4" width="45.7" height="45.4" fill="none" stroke="#3a3a3a" stroke-width="0.9"/>
<text transform="translate(111.6 487.3) scale(0.9 1)" font-size="6.5" text-anchor="end" fill="#111" stroke-width="0.12">7</text>
<ellipse cx="145.7" cy="514.0" rx="4.8" ry="10.5" fill="url(#g)" opacity="0.95"/>
<path d="M143.6 520.0h.8M146.0 516.9h.8M144.8 512.4h.8M150.5 523.3h.8M144.8 524.8h.8M148.4 521.0h.8M147.1 521.3h.8M146.8 514.3h.8M148.0 510.3h.8M146.7 507.1h.8M145.3 518.9h.8M149.6 505.4h.8M143.6 513.2h.8M142.3 521.9h.8M144.4 515.7h.8M147.3 508.3h.8M144.6 510.1h.8M146.1 519.9h.8M147.7 509.2h.8M147.3 512.0h.8M146.7 507.6h.8M148.1 513.8h.8M146.0 511.2h.8M148.1 518.8h.8M146.4 509.5h.8M148.9 512.0h.8M148.1 503.1h.8M146.1 520.1h.8M148.3 519.6h.8M147.8 512.7h.8M147.7 514.7h.8M146.7 516.1h.8M143.8 518.9h.8M145.1 506.4h.8M147.8 509.9h.8M148.6 524.5h.8M143.0 519.4h.8M144.3 516.7h.8M142.0 514.2h.8M143.4 517.9h.8M147.2 518.2h.8M144.8 518.1h.8M147.0 509.2h.8M148.8 514.2h.8M142.6 515.9h.8M146.3 515.5h.8M146.7 509.3h.8M146.9 513.0h.8M148.1 509.6h.8M148.3 512.1h.8M147.2 515.1h.8M144.2 516.7h.8M148.4 516.8h.8M150.3 518.7h.8M144.0 514.8h.8M145.9 508.3h.8M146.8 514.4h.8M145.4 512.0h.8M146.6 506.3h.8M146.7 511.2h.8M148.3 516.0h.8M145.5 518.8h.8M145.8 513.6h.8M149.9 507.6h.8M148.3 513.8h.8M145.2 510.7h.8M143.7 519.9h.8M146.0 508.3h.8M147.2 518.0h.8M145.6 513.0h.8M143.4 515.9h.8M143.6 510.8h.8M144.7 516.5h.8M146.1 514.0h.8M146.6 513.2h.8M148.2 509.1h.8M144.6 511.5h.8M144.3 505.3h.8M142.5 516.4h.8M143.9 512.7h.8M145.4 520.9h.8M145.3 507.1h.8M145.5 521.4h.8M146.3 516.2h.8M145.1 512.0h.8M143.0 516.3h.8M146.3 508.2h.8M146.6 507.7h.8M144.3 519.7h.8M152.4 504.8h.8M140.9 514.1h.8M142.8 520.4h.8M144.7 514.6h.8M144.7 520.3h.8M144.0 513.1h.8M146.3 511.0h.8M148.1 519.5h.8M146.9 518.2h.8M146.3 513.7h.8M149.0 520.5h.8M142.8 508.8h.8M145.4 518.9h.8M146.0 512.3h.8M145.2 515.2h.8M145.5 514.6h.8M145.4 515.0h.8M144.5 516.6h.8M143.4 520.7h.8M143.6 520.7h.8M145.2 514.6h.8M146.6 514.5h.8M146.8 509.6h.8M147.3 521.8h.8M140.9 518.5h.8M143.9 511.3h.8M143.4 515.0h.8M145.7 521.2h.8M145.8 511.0h.8M144.9 515.5h.8M147.7 514.2h.8M144.8 512.9h.8M146.0 514.6h.8M146.8 505.0h.8M146.7 518.8h.8M145.1 512.1h.8M148.5 514.8h.8M147.1 507.7h.8M147.6 524.8h.8M146.2 516.9h.8M146.1 505.2h.8M144.2 511.3h.8M141.9 512.6h.8M143.5 509.6h.8M142.6 507.9h.8M145.6 508.0h.8M142.8 510.1h.8M144.7 514.8h.8M143.8 515.2h.8M145.7 520.0h.8M145.3 513.3h.8M148.5 503.7h.8M147.5 513.4h.8M148.8 519.1h.8M145.9 508.6h.8M142.2 514.9h.8M147.7 515.6h.8M149.6 509.3h.8M144.9 513.1h.8M148.6 509.3h.8M145.4 520.7h.8M146.0 517.0h.8M145.5 514.3h.8M144.5 517.2h.8M144.8 517.2h.8M142.2 510.1h.8M146.0 508.0h.8M146.0 507.4h.8M147.1 508.2h.8M145.6 517.8h.8M146.6 519.1h.8M150.2 521.1h.8M147.7 507.9h.8M145.4 514.0h.8M146.2 519.7h.8M145.8 522.3h.8M148.3 512.5h.8M144.7 512.3h.8M147.8 512.3h.8M146.5 516.1h.8M140.5 517.8h.8M146.7 518.6h.8M144.6 512.0h.8M143.9 520.8h.8M145.7 509.4h.8M146.3 517.0h.8M150.6 520.3h.8M145.9 519.2h.8M144.0 516.1h.8M145.5 512.3h.8M146.7 513.8h.8M143.9 510.8h.8M145.2 511.0h.8M142.5 509.5h.8M143.3 519.2h.8M144.9 508.7h.8M147.2 510.9h.8M143.9 520.3h.8M144.0 515.9h.8M145.5 522.1h.8M143.7 521.4h.8M144.6 516.2h.8M143.9 519.3h.8M149.1 509.0h.8M144.8 515.3h.8M148.5 522.3h.8M146.0 516.4h.8M149.2 515.6h.8M143.8 524.8h.8M146.1 518.1h.8M140.9 507.7h.8M150.1 513.4h.8M136.9 503.6h.8M147.8 520.8h.8M147.4 510.2h.8M144.3 516.0h.8M143.2 514.5h.8M144.4 515.6h.8M155.8 512.9h.8M142.0 514.1h.8M143.1 512.9h.8M145.3 510.7h.8M144.5 518.2h.8M152.2 513.3h.8M147.2 514.3h.8M145.5 509.6h.8M148.7 509.2h.8M147.1 513.4h.8M145.4 505.3h.8M144.9 519.8h.8M145.5 510.5h.8M145.5 510.8h.8M144.5 509.9h.8M145.8 513.1h.8M150.6 515.1h.8M141.5 516.1h.8M147.4 509.1h.8M148.7 506.8h.8M145.7 511.8h.8M145.9 511.8h.8M150.1 508.7h.8M144.5 518.7h.8M148.2 507.2h.8M148.0 507.9h.8M146.7 517.2h.8M146.8 510.4h.8M149.0 511.4h.8M151.3 508.0h.8M142.2 506.1h.8M149.8 508.6h.8M143.6 503.7h.8M142.8 516.0h.8M146.7 513.8h.8" stroke="#000" stroke-width="0.8" stroke-opacity="0.5" fill="none" filter="url(#bl)"/>
<path d="M148.3 480.4v45.4M119.5 511.8h45.7" stroke="#333" stroke-width="0.8" fill="none"/>
<rect x="119.5" y="480.4" width="45.7" height="45.4" fill="none" stroke="#3a3a3a" stroke-width="0.9"/>
<text transform="translate(126.5 487.1) scale(0.9 1)" font-size="6.5" text-anchor="start" fill="#111" stroke-width="0.12">16</text>
<ellipse cx="187.1" cy="506.5" rx="5.4" ry="8.0" fill="url(#g)" opacity="1"/>
<ellipse cx="187.1" cy="514.0" rx="3.4" ry="9.0" fill="url(#g)" opacity="0.35"/>
<path d="M191.8 512.9h.8M187.0 506.6h.8M185.9 507.7h.8M189.6 507.2h.8M186.0 510.6h.8M189.6 509.3h.8M186.1 506.9h.8M182.9 506.4h.8M186.4 504.0h.8M186.5 505.7h.8M188.5 506.6h.8M186.2 512.3h.8M187.8 509.5h.8M187.8 499.3h.8M185.2 504.8h.8M184.6 510.7h.8M185.4 510.4h.8M183.3 500.6h.8M187.4 506.2h.8M188.7 511.9h.8M186.4 504.1h.8M185.7 505.2h.8M184.4 506.9h.8M188.7 503.1h.8M189.7 510.2h.8M182.1 507.2h.8M192.0 507.2h.8M190.8 504.3h.8M185.9 510.1h.8M187.2 505.4h.8M187.5 503.8h.8M188.1 506.0h.8M186.3 502.0h.8M188.1 504.6h.8M188.7 514.4h.8M192.9 503.8h.8M187.0 503.5h.8M185.7 506.6h.8M189.5 507.6h.8M187.1 507.9h.8M187.5 507.4h.8M187.4 500.8h.8M186.3 504.9h.8M186.1 499.0h.8M186.1 508.9h.8M185.4 507.9h.8M186.1 509.3h.8M191.5 501.3h.8M187.0 499.6h.8M185.3 506.7h.8M184.8 503.1h.8M190.0 502.4h.8M185.8 503.7h.8M187.5 501.2h.8M183.1 500.2h.8M182.3 507.7h.8M187.7 507.5h.8M183.2 509.1h.8M187.7 507.5h.8M189.2 506.8h.8M185.2 508.0h.8M186.0 505.4h.8M186.1 506.8h.8M185.5 505.9h.8M186.2 498.7h.8M186.1 507.7h.8M186.6 512.3h.8M187.2 511.7h.8M188.3 505.7h.8M188.2 507.7h.8M187.2 507.2h.8M185.3 512.4h.8M188.3 512.2h.8M189.0 503.9h.8M187.5 503.8h.8M186.3 504.9h.8M192.1 504.4h.8M182.0 511.7h.8M188.6 499.9h.8M187.7 502.6h.8M190.6 501.6h.8M191.4 504.2h.8M188.6 508.6h.8M186.1 502.8h.8M188.5 509.2h.8M184.5 512.1h.8M187.4 507.1h.8M185.4 510.6h.8M188.3 505.7h.8M183.1 507.7h.8M186.4 505.5h.8M187.6 510.3h.8M186.6 507.6h.8M186.4 508.8h.8M185.4 509.6h.8M186.6 510.0h.8M190.5 503.2h.8M185.8 507.4h.8M184.2 504.0h.8M184.8 505.2h.8M186.2 506.5h.8M188.8 508.5h.8M186.5 506.4h.8M188.9 505.7h.8M190.3 511.0h.8M185.1 508.1h.8M187.7 499.3h.8M186.5 507.9h.8M189.3 505.0h.8M189.0 508.8h.8M188.0 509.1h.8M184.6 512.3h.8M186.3 505.3h.8M186.9 509.5h.8M187.0 505.9h.8M185.7 504.2h.8M187.7 501.2h.8M188.1 507.5h.8M187.9 511.5h.8M185.3 505.8h.8M186.2 510.2h.8M184.5 506.8h.8M185.4 509.3h.8M188.5 506.0h.8M186.6 508.4h.8M186.7 503.1h.8M189.6 509.1h.8M185.8 513.0h.8M187.1 510.3h.8M183.8 504.7h.8M189.2 500.1h.8M186.7 507.2h.8M188.9 502.7h.8M188.9 506.1h.8M187.0 510.0h.8M188.4 498.8h.8M183.8 505.7h.8M185.9 506.0h.8M182.7 509.1h.8M189.4 508.0h.8M188.5 512.4h.8M190.4 508.1h.8M190.2 509.0h.8M190.7 499.7h.8M186.7 506.5h.8M183.7 505.5h.8M186.2 506.4h.8M191.9 510.1h.8M188.4 502.4h.8M189.8 497.7h.8M188.9 512.8h.8M188.5 506.0h.8M186.4 505.2h.8M184.6 511.5h.8M189.2 509.4h.8M185.1 507.3h.8M191.0 507.7h.8M188.4 509.1h.8M188.7 503.5h.8M187.2 507.0h.8M183.2 513.7h.8M185.1 508.6h.8M189.4 507.7h.8M184.3 513.6h.8M184.4 507.5h.8M190.6 512.3h.8M182.3 507.9h.8M187.0 506.0h.8M188.0 508.1h.8M191.7 507.8h.8M189.6 502.0h.8M188.2 513.8h.8M183.1 508.5h.8M186.5 514.3h.8M183.2 504.2h.8M187.8 505.5h.8M183.9 502.4h.8M189.5 506.2h.8M188.6 508.9h.8M185.9 513.9h.8M188.1 505.2h.8M187.7 505.6h.8M187.4 510.1h.8M187.2 508.5h.8M188.9 504.5h.8M187.3 505.2h.8M186.3 504.4h.8M188.0 510.9h.8M185.5 504.8h.8M190.0 505.6h.8M189.1 510.8h.8M182.4 504.7h.8M186.5 510.3h.8M186.9 501.8h.8M187.0 504.5h.8M188.3 511.5h.8M190.2 508.8h.8M190.6 503.6h.8M182.7 502.7h.8M189.2 501.0h.8M182.8 507.9h.8M189.6 505.8h.8M188.2 507.7h.8M185.3 506.4h.8M186.0 516.3h.8M186.0 511.0h.8M190.0 501.4h.8M185.8 507.5h.8M186.2 502.4h.8M188.1 507.4h.8M191.0 505.7h.8M185.8 507.5h.8M187.8 505.5h.8M185.5 499.4h.8M189.5 508.7h.8M184.4 500.3h.8M188.0 503.4h.8M188.1 504.1h.8M186.3 507.2h.8M189.8 502.4h.8M186.8 520.4h.8M187.3 506.6h.8M191.0 521.3h.8M185.9 507.5h.8M187.7 510.5h.8M188.5 512.6h.8M186.8 517.1h.8M187.6 519.2h.8M189.1 505.1h.8M185.9 508.3h.8M181.5 509.5h.8M186.6 512.3h.8M187.8 508.9h.8M188.2 507.4h.8M188.2 520.8h.8M189.5 516.7h.8M187.3 513.2h.8M186.0 517.8h.8M184.9 511.9h.8M184.6 505.2h.8M189.1 503.5h.8M186.0 516.2h.8M185.6 512.7h.8M190.1 512.6h.8M184.5 507.9h.8M188.9 513.8h.8M185.2 514.3h.8M186.1 520.1h.8M186.1 519.7h.8M187.9 509.9h.8M186.4 522.5h.8M189.0 517.9h.8M185.9 521.0h.8M190.9 512.3h.8M186.4 518.4h.8M183.5 505.1h.8M185.2 519.3h.8M185.2 509.4h.8M187.7 515.4h.8M184.4 509.8h.8M189.4 513.2h.8M185.3 513.6h.8M186.1 506.5h.8M189.3 513.9h.8M182.8 518.2h.8M191.3 513.7h.8M185.4 519.1h.8M183.2 524.8h.8M190.1 513.9h.8M186.7 520.3h.8M183.5 514.2h.8M188.4 507.4h.8M190.4 517.3h.8M190.4 507.0h.8M188.3 513.5h.8M185.1 524.8h.8M186.0 509.7h.8M188.8 507.5h.8M188.0 511.3h.8M186.5 515.5h.8M190.1 506.9h.8M185.3 507.5h.8M185.2 501.6h.8M189.3 523.0h.8M187.0 502.0h.8M190.7 503.4h.8M184.5 509.6h.8M192.0 509.8h.8M188.2 509.6h.8M187.1 506.7h.8M181.9 516.2h.8M186.2 503.8h.8M186.9 498.4h.8M191.0 502.6h.8M187.8 507.3h.8M183.9 508.5h.8M182.6 518.6h.8M190.2 507.6h.8M183.3 505.7h.8M193.0 505.2h.8M188.1 503.7h.8M185.5 511.9h.8M184.5 501.8h.8M191.9 515.4h.8M186.7 503.1h.8M187.8 504.6h.8M180.5 508.3h.8M187.7 499.4h.8M183.8 508.8h.8M179.6 508.0h.8" stroke="#000" stroke-width="0.8" stroke-opacity="0.5" fill="none" filter="url(#bl)"/>
<path d="M199.3 480.4v45.4M170.9 511.8h45.7" stroke="#333" stroke-width="0.8" fill="none"/>
<rect x="170.9" y="480.4" width="45.7" height="45.4" fill="none" stroke="#3a3a3a" stroke-width="0.9"/>
<text transform="translate(174.1 487.1) scale(0.9 1)" font-size="6.5" text-anchor="start" fill="#111" stroke-width="0.12">86</text>
<text x="67.6" y="540.3" font-size="10.4" text-anchor="start" font-weight="normal" fill="#111" stroke-width="0.22">CFSE</text>
<path d="M101.6 536.8H153" stroke="#3a3a3a" stroke-width="0.9"/>
<path d="M152.3 532.5L160.6 536.8L152.3 541.1Z" fill="#000"/>
<path d="M361.8 219.5V325.4M472.8 325.4V219.5H361.8" stroke="#222" stroke-width="0.9" fill="none"/>
<path d="M361.3 325.4H473.2" stroke="#111" stroke-width="1.2" fill="none"/>
<path d="M361.8 325.4v2M375.7 325.4v2M389.6 325.4v2M403.4 325.4v2M417.3 325.4v2M431.2 325.4v2M445.1 325.4v2M458.9 325.4v2M472.8 325.4v2" stroke="#111" stroke-width="0.8" fill="none"/>
<path d="M389.4 219.5V325.4" stroke="#222" stroke-width="0.8"/>
<path d="M418.0 219.5V325.4" stroke="#222" stroke-width="0.8"/>
<path d="M444.8 219.5V325.4" stroke="#222" stroke-width="0.8"/>
<text x="358.90000000000003" y="327.6" font-size="6.0" text-anchor="end" font-weight="normal" fill="#111" stroke-width="0.12">0</text>
<text x="358.90000000000003" y="314.4" font-size="6.0" text-anchor="end" font-weight="normal" fill="#111" stroke-width="0.12">5</text>
<text x="358.90000000000003" y="301.1" font-size="6.0" text-anchor="end" font-weight="normal" fill="#111" stroke-width="0.12">10</text>
<text x="358.90000000000003" y="287.9" font-size="6.0" text-anchor="end" font-weight="normal" fill="#111" stroke-width="0.12">15</text>
<text x="358.90000000000003" y="274.6" font-size="6.0" text-anchor="end" font-weight="normal" fill="#111" stroke-width="0.12">20</text>
<text x="358.90000000000003" y="261.4" font-size="6.0" text-anchor="end" font-weight="normal" fill="#111" stroke-width="0.12">25</text>
<text x="358.90000000000003" y="248.2" font-size="6.0" text-anchor="end" font-weight="normal" fill="#111" stroke-width="0.12">30</text>
<text x="358.90000000000003" y="234.9" font-size="6.0" text-anchor="end" font-weight="normal" fill="#111" stroke-width="0.12">35</text>
<text x="358.90000000000003" y="221.7" font-size="6.0" text-anchor="end" font-weight="normal" fill="#111" stroke-width="0.12">40</text>
<rect x="364.1" y="322.8" width="4.1" height="2.6" fill="#fff" stroke="#111" stroke-width="0.7"/>
<rect x="368.2" y="322.2" width="4.8" height="3.2" fill="#000" stroke="#000" stroke-width="0.3"/>
<path d="M366.1 322.8V322.2M364.4 322.2h3.4" stroke="#111" stroke-width="0.7" fill="none"/>
<path d="M370.6 322.2V321.2M368.9 321.2h3.4" stroke="#111" stroke-width="0.7" fill="none"/>
<text x="371.3" y="348.6" font-size="7.3" text-anchor="start" font-weight="normal" fill="#111" stroke-width="0.12" transform="rotate(-90 371.3 348.6)">CD4<tspan font-size="4.2" dy="-3">+</tspan></text>
<rect x="377.8" y="320.9" width="4.1" height="4.5" fill="#fff" stroke="#111" stroke-width="0.7"/>
<rect x="381.9" y="256.0" width="5.6" height="69.4" fill="#000" stroke="#000" stroke-width="0.3"/>
<path d="M379.9 320.9V319.3M378.2 319.3h3.4" stroke="#111" stroke-width="0.7" fill="none"/>
<path d="M384.7 256.0V249.7M383.0 249.7h3.4" stroke="#111" stroke-width="0.7" fill="none"/>
<text x="385.0" y="348.6" font-size="7.3" text-anchor="start" font-weight="normal" fill="#111" stroke-width="0.12" transform="rotate(-90 385.0 348.6)">CD8<tspan font-size="4.2" dy="-3">+</tspan></text>
<rect x="392.3" y="317.2" width="4.0" height="8.2" fill="#fff" stroke="#111" stroke-width="0.7"/>
<rect x="396.3" y="320.1" width="4.9" height="5.3" fill="#000" stroke="#000" stroke-width="0.3"/>
<path d="M394.3 317.2V315.3M392.6 315.3h3.4" stroke="#111" stroke-width="0.7" fill="none"/>
<path d="M398.8 320.1V317.7M397.1 317.7h3.4" stroke="#111" stroke-width="0.7" fill="none"/>
<text x="399.5" y="348.6" font-size="7.3" text-anchor="start" font-weight="normal" fill="#111" stroke-width="0.12" transform="rotate(-90 399.5 348.6)">CD4<tspan font-size="4.2" dy="-3">+</tspan></text>
<rect x="406.0" y="324.6" width="4.3" height="0.8" fill="#fff" stroke="#111" stroke-width="0.7"/>
<rect x="410.3" y="259.2" width="5.3" height="66.2" fill="#000" stroke="#000" stroke-width="0.3"/>
<path d="M408.1 324.6V323.9M406.4 323.9h3.4" stroke="#111" stroke-width="0.7" fill="none"/>
<path d="M413.0 259.2V254.7M411.3 254.7h3.4" stroke="#111" stroke-width="0.7" fill="none"/>
<text x="413.2" y="348.6" font-size="7.3" text-anchor="start" font-weight="normal" fill="#111" stroke-width="0.12" transform="rotate(-90 413.2 348.6)">CD8<tspan font-size="4.2" dy="-3">+</tspan></text>
<rect x="420.4" y="322.0" width="3.8" height="3.4" fill="#fff" stroke="#111" stroke-width="0.7"/>
<rect x="424.2" y="320.1" width="4.8" height="5.3" fill="#000" stroke="#000" stroke-width="0.3"/>
<path d="M422.3 322.0V320.6M420.6 320.6h3.4" stroke="#111" stroke-width="0.7" fill="none"/>
<path d="M426.6 320.1V318.5M424.9 318.5h3.4" stroke="#111" stroke-width="0.7" fill="none"/>
<text x="427.1" y="348.6" font-size="7.3" text-anchor="start" font-weight="normal" fill="#111" stroke-width="0.12" transform="rotate(-90 427.1 348.6)">CD4<tspan font-size="4.2" dy="-3">+</tspan></text>
<rect x="433.8" y="324.6" width="4.1" height="0.8" fill="#fff" stroke="#111" stroke-width="0.7"/>
<rect x="437.9" y="239.9" width="5.3" height="85.5" fill="#000" stroke="#000" stroke-width="0.3"/>
<path d="M435.9 324.6V324.3M434.2 324.3h3.4" stroke="#111" stroke-width="0.7" fill="none"/>
<path d="M440.5 239.9V230.9M438.8 230.9h3.4" stroke="#111" stroke-width="0.7" fill="none"/>
<text x="440.8" y="348.6" font-size="7.3" text-anchor="start" font-weight="normal" fill="#111" stroke-width="0.12" transform="rotate(-90 440.8 348.6)">CD8<tspan font-size="4.2" dy="-3">+</tspan></text>
<rect x="447.5" y="319.8" width="4.1" height="5.6" fill="#fff" stroke="#111" stroke-width="0.7"/>
<rect x="451.6" y="320.9" width="4.8" height="4.5" fill="#000" stroke="#000" stroke-width="0.3"/>
<path d="M449.6 319.8V318.5M447.9 318.5h3.4" stroke="#111" stroke-width="0.7" fill="none"/>
<path d="M454.0 320.9V318.0M452.3 318.0h3.4" stroke="#111" stroke-width="0.7" fill="none"/>
<text x="454.8" y="348.6" font-size="7.3" text-anchor="start" font-weight="normal" fill="#111" stroke-width="0.12" transform="rotate(-90 454.8 348.6)">CD4<tspan font-size="4.2" dy="-3">+</tspan></text>
<rect x="461.3" y="324.6" width="4.3" height="0.8" fill="#fff" stroke="#111" stroke-width="0.7"/>
<rect x="465.6" y="258.7" width="5.3" height="66.7" fill="#000" stroke="#000" stroke-width="0.3"/>
<path d="M463.5 324.6V324.3M461.8 324.3h3.4" stroke="#111" stroke-width="0.7" fill="none"/>
<path d="M468.2 258.7V251.3M466.6 251.3h3.4" stroke="#111" stroke-width="0.7" fill="none"/>
<text x="468.7" y="348.6" font-size="7.3" text-anchor="start" font-weight="normal" fill="#111" stroke-width="0.12" transform="rotate(-90 468.7 348.6)">CD8<tspan font-size="4.2" dy="-3">+</tspan></text>
<text x="365.6" y="226.9" font-size="7.5" text-anchor="start" font-weight="normal" fill="#111" stroke-width="0.22">CD94</text>
<text x="391.4" y="226.9" font-size="7.25" text-anchor="start" font-weight="normal" fill="#111" stroke-width="0.12">NKG2A</text>
<text x="420.0" y="226.9" font-size="7.2" text-anchor="start" font-weight="normal" fill="#111" stroke-width="0.12">NKG2</text>
<text x="420.0" y="234.8" font-size="7.0" text-anchor="start" font-weight="normal" fill="#111" stroke-width="0.12">ACE</text>
<text x="446.0" y="226.9" font-size="7.25" text-anchor="start" font-weight="normal" fill="#111" stroke-width="0.12">NKG2D</text>
<rect x="479.2" y="227.1" width="3.8" height="3.8" fill="#fff" stroke="#111" stroke-width="0.8"/>
<rect x="478.7" y="237.3" width="4.7" height="4.6" fill="#000" stroke="#000" stroke-width="0.3"/>
<text x="486.2" y="231.5" font-size="6.1" text-anchor="start" font-weight="normal" fill="#111" stroke-width="0.12">PMA/Iono</text>
<text x="486.2" y="241.9" font-size="6.1" text-anchor="start" font-weight="normal" fill="#111" stroke-width="0.12">Anti-CD3</text>
<text x="335.0" y="271.2" font-size="8.8" text-anchor="middle" font-weight="normal" fill="#111" stroke-width="0.22" transform="rotate(-90 335.0 271.2)" id="dl1">NKR<tspan font-size="5.5" dy="-3.2">+</tspan><tspan dy="3.2"> CD4</tspan><tspan font-size="5.5" dy="-3.2">+</tspan><tspan dy="3.2"> or CD8</tspan><tspan font-size="5.5" dy="-3.2">+</tspan><tspan dy="3.2"> cells</tspan></text>
<text x="344.4" y="271.6" font-size="8.4" text-anchor="middle" font-weight="normal" fill="#111" stroke-width="0.22" transform="rotate(-90 344.4 271.6)" id="dl2">after stimulation (%)</text>
</svg>
</body></html>
